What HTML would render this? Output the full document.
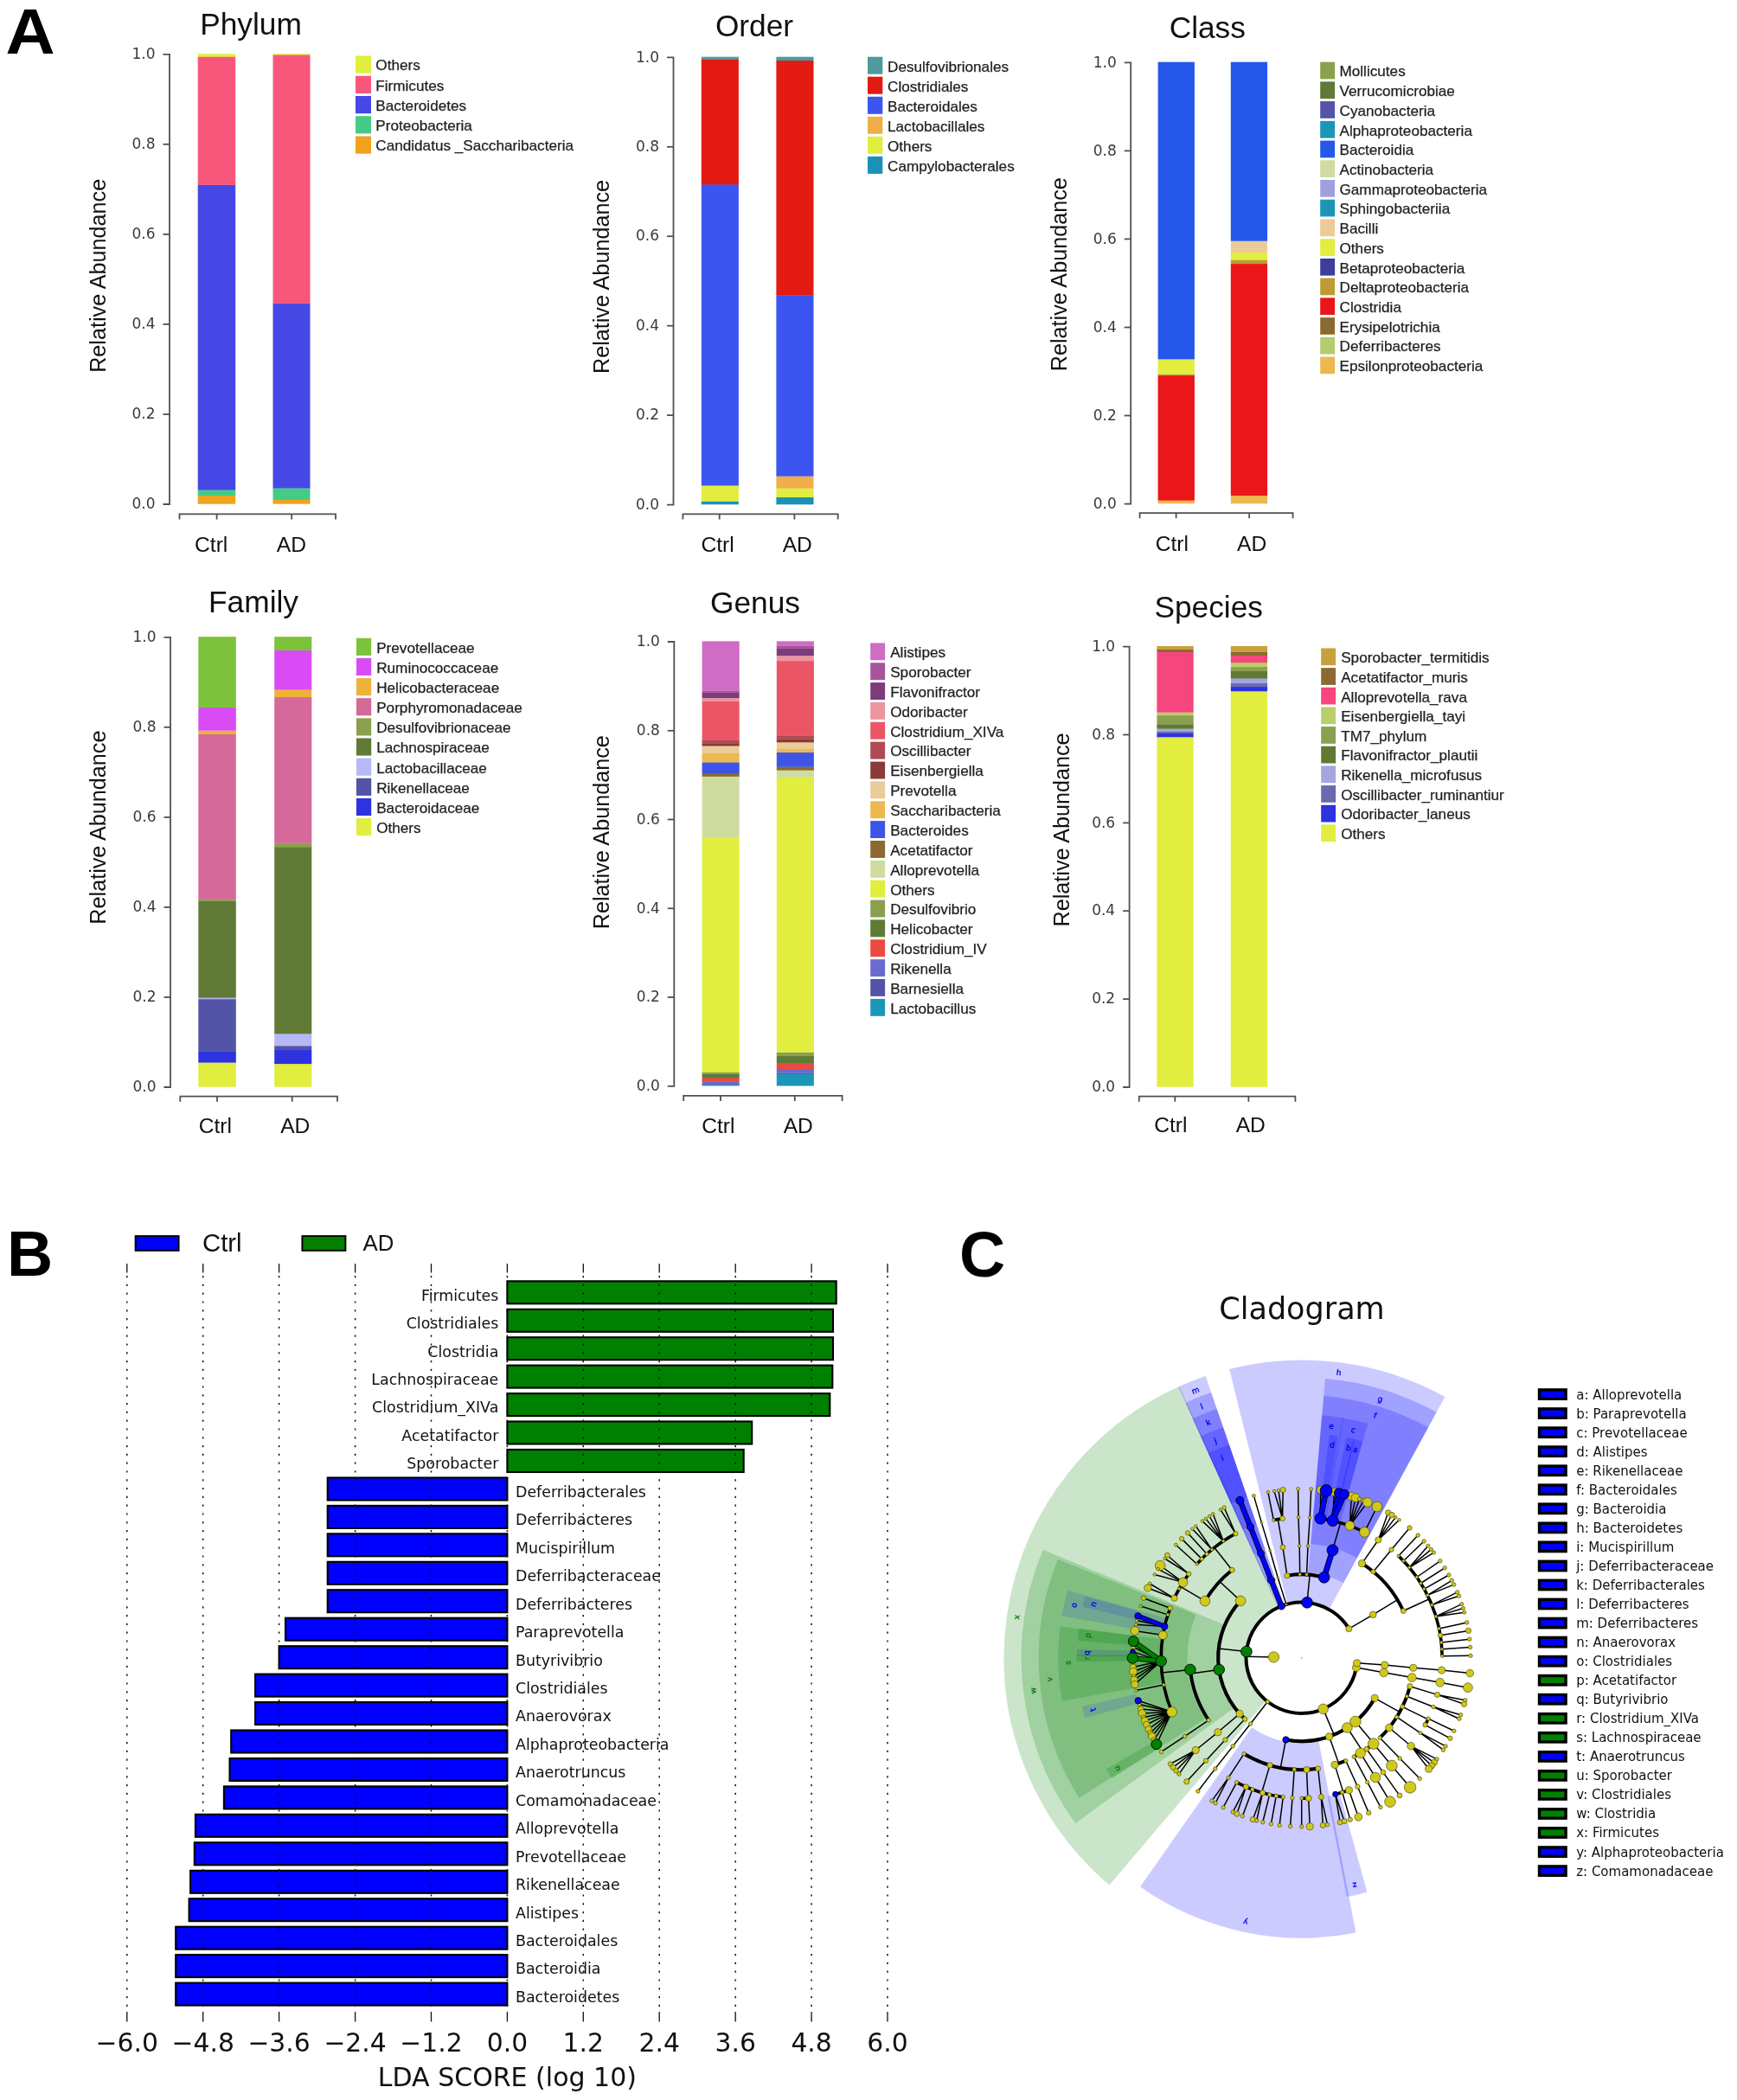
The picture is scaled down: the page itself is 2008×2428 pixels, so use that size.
<!DOCTYPE html>
<html><head><meta charset="utf-8"><title>Figure</title>
<style>html,body{margin:0;padding:0;background:#fff}svg{display:block;filter:blur(0.45px)}</style></head>
<body><svg width="2008" height="2428" viewBox="0 0 2008 2428">
<rect width="2008" height="2428" fill="#fff"/>
<g stroke="#505050" stroke-width="1.8" fill="none">
<path d="M188.5,62.800000000000004H196V583.0H188.5"/>
<path d="M188.5,479.0H196"/>
<path d="M188.5,374.9H196"/>
<path d="M188.5,270.9H196"/>
<path d="M188.5,166.8H196"/>
<path d="M207.5,600.4V594.4H388V600.4M250.6,594.4V600.4M337.2,594.4V600.4"/>
</g>
<text x="179.6" y="588.2" text-anchor="end" font-family="DejaVu Sans, Liberation Sans, sans-serif" font-size="17" fill="#3a3a3a">0.0</text>
<text x="179.6" y="484.2" text-anchor="end" font-family="DejaVu Sans, Liberation Sans, sans-serif" font-size="17" fill="#3a3a3a">0.2</text>
<text x="179.6" y="380.1" text-anchor="end" font-family="DejaVu Sans, Liberation Sans, sans-serif" font-size="17" fill="#3a3a3a">0.4</text>
<text x="179.6" y="276.1" text-anchor="end" font-family="DejaVu Sans, Liberation Sans, sans-serif" font-size="17" fill="#3a3a3a">0.6</text>
<text x="179.6" y="172.0" text-anchor="end" font-family="DejaVu Sans, Liberation Sans, sans-serif" font-size="17" fill="#3a3a3a">0.8</text>
<text x="179.6" y="68.0" text-anchor="end" font-family="DejaVu Sans, Liberation Sans, sans-serif" font-size="17" fill="#3a3a3a">1.0</text>
<rect x="228.7" y="572.7" width="43.5" height="10.0" fill="#F0A31E"/>
<rect x="228.7" y="566.3" width="43.5" height="6.8" fill="#45CB86"/>
<rect x="228.7" y="213.6" width="43.5" height="353.0" fill="#4648E5"/>
<rect x="228.7" y="65.3" width="43.5" height="148.6" fill="#F8577B"/>
<rect x="228.7" y="62.2" width="43.5" height="3.4" fill="#E1EE3F"/>
<rect x="315.5" y="577.7" width="43.0" height="5.0" fill="#F0A31E"/>
<rect x="315.5" y="564.2" width="43.0" height="13.8" fill="#45CB86"/>
<rect x="315.5" y="350.9" width="43.0" height="213.6" fill="#4648E5"/>
<rect x="315.5" y="63.2" width="43.0" height="288.0" fill="#F8577B"/>
<rect x="315.5" y="62.2" width="43.0" height="1.3" fill="#E1EE3F"/>
<text x="290" y="39.8" text-anchor="middle" font-family="Liberation Sans, Arial, sans-serif" font-size="35.3" fill="#111">Phylum</text>
<text x="244.2" y="637.5" text-anchor="middle" font-family="Liberation Sans, Arial, sans-serif" font-size="24.6" fill="#111">Ctrl</text>
<text x="336.9" y="637.5" text-anchor="middle" font-family="Liberation Sans, Arial, sans-serif" font-size="24.6" fill="#111">AD</text>
<text transform="translate(122,318.8) rotate(-90)" text-anchor="middle" font-family="Liberation Sans, Arial, sans-serif" font-size="25.2" fill="#111">Relative Abundance</text>
<rect x="411" y="64.5" width="18.0" height="20.2" fill="#E1EE3F"/>
<text x="434.3" y="81.4" font-family="Liberation Sans, Arial, sans-serif" font-size="17.15" fill="#1e1e1e" stroke="#1e1e1e" stroke-width="0.25">Others</text>
<rect x="411" y="87.8" width="18.0" height="20.2" fill="#F8577B"/>
<text x="434.3" y="104.7" font-family="Liberation Sans, Arial, sans-serif" font-size="17.15" fill="#1e1e1e" stroke="#1e1e1e" stroke-width="0.25">Firmicutes</text>
<rect x="411" y="111.0" width="18.0" height="20.2" fill="#4648E5"/>
<text x="434.3" y="127.9" font-family="Liberation Sans, Arial, sans-serif" font-size="17.15" fill="#1e1e1e" stroke="#1e1e1e" stroke-width="0.25">Bacteroidetes</text>
<rect x="411" y="134.2" width="18.0" height="20.2" fill="#45CB86"/>
<text x="434.3" y="151.2" font-family="Liberation Sans, Arial, sans-serif" font-size="17.15" fill="#1e1e1e" stroke="#1e1e1e" stroke-width="0.25">Proteobacteria</text>
<rect x="411" y="157.5" width="18.0" height="20.2" fill="#F0A31E"/>
<text x="434.3" y="174.4" font-family="Liberation Sans, Arial, sans-serif" font-size="17.15" fill="#1e1e1e" stroke="#1e1e1e" stroke-width="0.25">Candidatus _Saccharibacteria</text>
<g stroke="#505050" stroke-width="1.8" fill="none">
<path d="M771.0,66.3H778.5V583.6H771.0"/>
<path d="M771.0,480.1H778.5"/>
<path d="M771.0,376.7H778.5"/>
<path d="M771.0,273.2H778.5"/>
<path d="M771.0,169.8H778.5"/>
<path d="M789.4,600.4V594.4H968.7V600.4M831.7,594.4V600.4M918.4,594.4V600.4"/>
</g>
<text x="762.1" y="588.8" text-anchor="end" font-family="DejaVu Sans, Liberation Sans, sans-serif" font-size="17" fill="#3a3a3a">0.0</text>
<text x="762.1" y="485.3" text-anchor="end" font-family="DejaVu Sans, Liberation Sans, sans-serif" font-size="17" fill="#3a3a3a">0.2</text>
<text x="762.1" y="381.9" text-anchor="end" font-family="DejaVu Sans, Liberation Sans, sans-serif" font-size="17" fill="#3a3a3a">0.4</text>
<text x="762.1" y="278.4" text-anchor="end" font-family="DejaVu Sans, Liberation Sans, sans-serif" font-size="17" fill="#3a3a3a">0.6</text>
<text x="762.1" y="175.0" text-anchor="end" font-family="DejaVu Sans, Liberation Sans, sans-serif" font-size="17" fill="#3a3a3a">0.8</text>
<text x="762.1" y="71.5" text-anchor="end" font-family="DejaVu Sans, Liberation Sans, sans-serif" font-size="17" fill="#3a3a3a">1.0</text>
<rect x="810.8" y="579.4" width="43.1" height="3.9" fill="#1B92B5"/>
<rect x="810.8" y="561.3" width="43.1" height="18.4" fill="#E1EE3F"/>
<rect x="810.8" y="213.1" width="43.1" height="348.4" fill="#3D55F0"/>
<rect x="810.8" y="68.3" width="43.1" height="145.1" fill="#E31A12"/>
<rect x="810.8" y="65.7" width="43.1" height="2.9" fill="#4D9A9F"/>
<rect x="897.4" y="574.7" width="43.1" height="8.6" fill="#1B92B5"/>
<rect x="897.4" y="564.4" width="43.1" height="10.6" fill="#E1EE3F"/>
<rect x="897.4" y="550.4" width="43.1" height="14.3" fill="#F0AE4B"/>
<rect x="897.4" y="341.4" width="43.1" height="209.3" fill="#3D55F0"/>
<rect x="897.4" y="69.8" width="43.1" height="271.9" fill="#E31A12"/>
<rect x="897.4" y="65.7" width="43.1" height="4.4" fill="#4D9A9F"/>
<text x="872" y="41.5" text-anchor="middle" font-family="Liberation Sans, Arial, sans-serif" font-size="35.3" fill="#111">Order</text>
<text x="829.5" y="637.5" text-anchor="middle" font-family="Liberation Sans, Arial, sans-serif" font-size="24.6" fill="#111">Ctrl</text>
<text x="921.8" y="637.5" text-anchor="middle" font-family="Liberation Sans, Arial, sans-serif" font-size="24.6" fill="#111">AD</text>
<text transform="translate(703.6,320) rotate(-90)" text-anchor="middle" font-family="Liberation Sans, Arial, sans-serif" font-size="25.2" fill="#111">Relative Abundance</text>
<rect x="1003" y="65.7" width="17.3" height="20.0" fill="#4D9A9F"/>
<text x="1026" y="82.5" font-family="Liberation Sans, Arial, sans-serif" font-size="17.15" fill="#1e1e1e" stroke="#1e1e1e" stroke-width="0.25">Desulfovibrionales</text>
<rect x="1003" y="88.7" width="17.3" height="20.0" fill="#E31A12"/>
<text x="1026" y="105.5" font-family="Liberation Sans, Arial, sans-serif" font-size="17.15" fill="#1e1e1e" stroke="#1e1e1e" stroke-width="0.25">Clostridiales</text>
<rect x="1003" y="111.8" width="17.3" height="20.0" fill="#3D55F0"/>
<text x="1026" y="128.6" font-family="Liberation Sans, Arial, sans-serif" font-size="17.15" fill="#1e1e1e" stroke="#1e1e1e" stroke-width="0.25">Bacteroidales</text>
<rect x="1003" y="134.8" width="17.3" height="20.0" fill="#F0AE4B"/>
<text x="1026" y="151.6" font-family="Liberation Sans, Arial, sans-serif" font-size="17.15" fill="#1e1e1e" stroke="#1e1e1e" stroke-width="0.25">Lactobacillales</text>
<rect x="1003" y="157.8" width="17.3" height="20.0" fill="#E1EE3F"/>
<text x="1026" y="174.6" font-family="Liberation Sans, Arial, sans-serif" font-size="17.15" fill="#1e1e1e" stroke="#1e1e1e" stroke-width="0.25">Others</text>
<rect x="1003" y="180.9" width="17.3" height="20.0" fill="#1B92B5"/>
<text x="1026" y="197.7" font-family="Liberation Sans, Arial, sans-serif" font-size="17.15" fill="#1e1e1e" stroke="#1e1e1e" stroke-width="0.25">Campylobacterales</text>
<g stroke="#505050" stroke-width="1.8" fill="none">
<path d="M1299.7,72.3H1307.2V582.6H1299.7"/>
<path d="M1299.7,480.5H1307.2"/>
<path d="M1299.7,378.5H1307.2"/>
<path d="M1299.7,276.4H1307.2"/>
<path d="M1299.7,174.4H1307.2"/>
<path d="M1317.6,599.2V593.2H1494.6V599.2M1359.6,593.2V599.2M1444.2,593.2V599.2"/>
</g>
<text x="1290.8" y="587.8" text-anchor="end" font-family="DejaVu Sans, Liberation Sans, sans-serif" font-size="17" fill="#3a3a3a">0.0</text>
<text x="1290.8" y="485.7" text-anchor="end" font-family="DejaVu Sans, Liberation Sans, sans-serif" font-size="17" fill="#3a3a3a">0.2</text>
<text x="1290.8" y="383.7" text-anchor="end" font-family="DejaVu Sans, Liberation Sans, sans-serif" font-size="17" fill="#3a3a3a">0.4</text>
<text x="1290.8" y="281.6" text-anchor="end" font-family="DejaVu Sans, Liberation Sans, sans-serif" font-size="17" fill="#3a3a3a">0.6</text>
<text x="1290.8" y="179.6" text-anchor="end" font-family="DejaVu Sans, Liberation Sans, sans-serif" font-size="17" fill="#3a3a3a">0.8</text>
<text x="1290.8" y="77.5" text-anchor="end" font-family="DejaVu Sans, Liberation Sans, sans-serif" font-size="17" fill="#3a3a3a">1.0</text>
<rect x="1338.6" y="578.4" width="42.3" height="3.9" fill="#EDB850"/>
<rect x="1338.6" y="434.0" width="42.3" height="144.7" fill="#EA161A"/>
<rect x="1338.6" y="432.5" width="42.3" height="1.8" fill="#C09A35"/>
<rect x="1338.6" y="415.1" width="42.3" height="17.7" fill="#E1EE3F"/>
<rect x="1338.6" y="71.7" width="42.3" height="343.7" fill="#2657EB"/>
<rect x="1422.8" y="572.8" width="42.3" height="9.5" fill="#EDB850"/>
<rect x="1422.8" y="304.9" width="42.3" height="268.2" fill="#EA161A"/>
<rect x="1422.8" y="300.3" width="42.3" height="4.9" fill="#C09A35"/>
<rect x="1422.8" y="291.6" width="42.3" height="9.0" fill="#E1EE3F"/>
<rect x="1422.8" y="278.4" width="42.3" height="13.6" fill="#EBCB98"/>
<rect x="1422.8" y="71.7" width="42.3" height="207.0" fill="#2657EB"/>
<text x="1395.8" y="43.5" text-anchor="middle" font-family="Liberation Sans, Arial, sans-serif" font-size="35.3" fill="#111">Class</text>
<text x="1354.9" y="636.5" text-anchor="middle" font-family="Liberation Sans, Arial, sans-serif" font-size="24.6" fill="#111">Ctrl</text>
<text x="1447.2" y="636.5" text-anchor="middle" font-family="Liberation Sans, Arial, sans-serif" font-size="24.6" fill="#111">AD</text>
<text transform="translate(1232.6,317.2) rotate(-90)" text-anchor="middle" font-family="Liberation Sans, Arial, sans-serif" font-size="25.2" fill="#111">Relative Abundance</text>
<rect x="1526.2" y="71.7" width="16.9" height="19.7" fill="#8BA04E"/>
<text x="1548.5" y="88.4" font-family="Liberation Sans, Arial, sans-serif" font-size="17.15" fill="#1e1e1e" stroke="#1e1e1e" stroke-width="0.25">Mollicutes</text>
<rect x="1526.2" y="94.4" width="16.9" height="19.7" fill="#5E7A35"/>
<text x="1548.5" y="111.1" font-family="Liberation Sans, Arial, sans-serif" font-size="17.15" fill="#1e1e1e" stroke="#1e1e1e" stroke-width="0.25">Verrucomicrobiae</text>
<rect x="1526.2" y="117.1" width="16.9" height="19.7" fill="#5353A8"/>
<text x="1548.5" y="133.8" font-family="Liberation Sans, Arial, sans-serif" font-size="17.15" fill="#1e1e1e" stroke="#1e1e1e" stroke-width="0.25">Cyanobacteria</text>
<rect x="1526.2" y="139.9" width="16.9" height="19.7" fill="#1B96B8"/>
<text x="1548.5" y="156.5" font-family="Liberation Sans, Arial, sans-serif" font-size="17.15" fill="#1e1e1e" stroke="#1e1e1e" stroke-width="0.25">Alphaproteobacteria</text>
<rect x="1526.2" y="162.6" width="16.9" height="19.7" fill="#2657EB"/>
<text x="1548.5" y="179.2" font-family="Liberation Sans, Arial, sans-serif" font-size="17.15" fill="#1e1e1e" stroke="#1e1e1e" stroke-width="0.25">Bacteroidia</text>
<rect x="1526.2" y="185.3" width="16.9" height="19.7" fill="#CFDCA0"/>
<text x="1548.5" y="202.0" font-family="Liberation Sans, Arial, sans-serif" font-size="17.15" fill="#1e1e1e" stroke="#1e1e1e" stroke-width="0.25">Actinobacteria</text>
<rect x="1526.2" y="208.0" width="16.9" height="19.7" fill="#A09FE0"/>
<text x="1548.5" y="224.7" font-family="Liberation Sans, Arial, sans-serif" font-size="17.15" fill="#1e1e1e" stroke="#1e1e1e" stroke-width="0.25">Gammaproteobacteria</text>
<rect x="1526.2" y="230.7" width="16.9" height="19.7" fill="#1B96B8"/>
<text x="1548.5" y="247.4" font-family="Liberation Sans, Arial, sans-serif" font-size="17.15" fill="#1e1e1e" stroke="#1e1e1e" stroke-width="0.25">Sphingobacteriia</text>
<rect x="1526.2" y="253.5" width="16.9" height="19.7" fill="#EBCB98"/>
<text x="1548.5" y="270.1" font-family="Liberation Sans, Arial, sans-serif" font-size="17.15" fill="#1e1e1e" stroke="#1e1e1e" stroke-width="0.25">Bacilli</text>
<rect x="1526.2" y="276.2" width="16.9" height="19.7" fill="#E1EE3F"/>
<text x="1548.5" y="292.8" font-family="Liberation Sans, Arial, sans-serif" font-size="17.15" fill="#1e1e1e" stroke="#1e1e1e" stroke-width="0.25">Others</text>
<rect x="1526.2" y="298.9" width="16.9" height="19.7" fill="#3D3D9A"/>
<text x="1548.5" y="315.6" font-family="Liberation Sans, Arial, sans-serif" font-size="17.15" fill="#1e1e1e" stroke="#1e1e1e" stroke-width="0.25">Betaproteobacteria</text>
<rect x="1526.2" y="321.6" width="16.9" height="19.7" fill="#C09A35"/>
<text x="1548.5" y="338.3" font-family="Liberation Sans, Arial, sans-serif" font-size="17.15" fill="#1e1e1e" stroke="#1e1e1e" stroke-width="0.25">Deltaproteobacteria</text>
<rect x="1526.2" y="344.3" width="16.9" height="19.7" fill="#EA161A"/>
<text x="1548.5" y="361.0" font-family="Liberation Sans, Arial, sans-serif" font-size="17.15" fill="#1e1e1e" stroke="#1e1e1e" stroke-width="0.25">Clostridia</text>
<rect x="1526.2" y="367.1" width="16.9" height="19.7" fill="#8A6A30"/>
<text x="1548.5" y="383.7" font-family="Liberation Sans, Arial, sans-serif" font-size="17.15" fill="#1e1e1e" stroke="#1e1e1e" stroke-width="0.25">Erysipelotrichia</text>
<rect x="1526.2" y="389.8" width="16.9" height="19.7" fill="#B0CE6A"/>
<text x="1548.5" y="406.4" font-family="Liberation Sans, Arial, sans-serif" font-size="17.15" fill="#1e1e1e" stroke="#1e1e1e" stroke-width="0.25">Deferribacteres</text>
<rect x="1526.2" y="412.5" width="16.9" height="19.7" fill="#EDB850"/>
<text x="1548.5" y="429.2" font-family="Liberation Sans, Arial, sans-serif" font-size="17.15" fill="#1e1e1e" stroke="#1e1e1e" stroke-width="0.25">Epsilonproteobacteria</text>
<g stroke="#505050" stroke-width="1.8" fill="none">
<path d="M189.5,736.8000000000001H197V1257.0H189.5"/>
<path d="M189.5,1153.0H197"/>
<path d="M189.5,1048.9H197"/>
<path d="M189.5,944.9H197"/>
<path d="M189.5,840.8H197"/>
<path d="M208.3,1273.7V1267.7H390V1273.7M251,1267.7V1273.7M337.7,1267.7V1273.7"/>
</g>
<text x="180.6" y="1262.2" text-anchor="end" font-family="DejaVu Sans, Liberation Sans, sans-serif" font-size="17" fill="#3a3a3a">0.0</text>
<text x="180.6" y="1158.2" text-anchor="end" font-family="DejaVu Sans, Liberation Sans, sans-serif" font-size="17" fill="#3a3a3a">0.2</text>
<text x="180.6" y="1054.1" text-anchor="end" font-family="DejaVu Sans, Liberation Sans, sans-serif" font-size="17" fill="#3a3a3a">0.4</text>
<text x="180.6" y="950.1" text-anchor="end" font-family="DejaVu Sans, Liberation Sans, sans-serif" font-size="17" fill="#3a3a3a">0.6</text>
<text x="180.6" y="846.0" text-anchor="end" font-family="DejaVu Sans, Liberation Sans, sans-serif" font-size="17" fill="#3a3a3a">0.8</text>
<text x="180.6" y="742.0" text-anchor="end" font-family="DejaVu Sans, Liberation Sans, sans-serif" font-size="17" fill="#3a3a3a">1.0</text>
<rect x="229.3" y="1228.3" width="43.5" height="28.4" fill="#E1EE3F"/>
<rect x="229.3" y="1215.3" width="43.5" height="13.3" fill="#2D33DF"/>
<rect x="229.3" y="1155.0" width="43.5" height="60.6" fill="#5353A8"/>
<rect x="229.3" y="1153.4" width="43.5" height="1.9" fill="#B8B8F5"/>
<rect x="229.3" y="1041.6" width="43.5" height="112.1" fill="#617B37"/>
<rect x="229.3" y="1039.5" width="43.5" height="2.4" fill="#8BA04E"/>
<rect x="229.3" y="848.6" width="43.5" height="191.2" fill="#D4699A"/>
<rect x="229.3" y="844.4" width="43.5" height="4.5" fill="#EDB23A"/>
<rect x="229.3" y="817.9" width="43.5" height="26.8" fill="#D94CF5"/>
<rect x="229.3" y="736.2" width="43.5" height="82.0" fill="#7CC23A"/>
<rect x="317.2" y="1229.9" width="43.1" height="26.8" fill="#E1EE3F"/>
<rect x="317.2" y="1213.2" width="43.1" height="16.9" fill="#2D33DF"/>
<rect x="317.2" y="1209.1" width="43.1" height="4.5" fill="#5353A8"/>
<rect x="317.2" y="1195.0" width="43.1" height="14.3" fill="#B8B8F5"/>
<rect x="317.2" y="979.1" width="43.1" height="216.2" fill="#617B37"/>
<rect x="317.2" y="974.5" width="43.1" height="5.0" fill="#8BA04E"/>
<rect x="317.2" y="805.9" width="43.1" height="168.8" fill="#D4699A"/>
<rect x="317.2" y="797.1" width="43.1" height="9.1" fill="#EDB23A"/>
<rect x="317.2" y="751.8" width="43.1" height="45.6" fill="#D94CF5"/>
<rect x="317.2" y="736.2" width="43.1" height="15.9" fill="#7CC23A"/>
<text x="293" y="708.4" text-anchor="middle" font-family="Liberation Sans, Arial, sans-serif" font-size="35.3" fill="#111">Family</text>
<text x="248.8" y="1309.6" text-anchor="middle" font-family="Liberation Sans, Arial, sans-serif" font-size="24.6" fill="#111">Ctrl</text>
<text x="341.3" y="1309.6" text-anchor="middle" font-family="Liberation Sans, Arial, sans-serif" font-size="24.6" fill="#111">AD</text>
<text transform="translate(122,956.6) rotate(-90)" text-anchor="middle" font-family="Liberation Sans, Arial, sans-serif" font-size="25.2" fill="#111">Relative Abundance</text>
<rect x="411.9" y="737.8" width="17.3" height="20.1" fill="#7CC23A"/>
<text x="435.2" y="754.7" font-family="Liberation Sans, Arial, sans-serif" font-size="17.15" fill="#1e1e1e" stroke="#1e1e1e" stroke-width="0.25">Prevotellaceae</text>
<rect x="411.9" y="760.9" width="17.3" height="20.1" fill="#D94CF5"/>
<text x="435.2" y="777.8" font-family="Liberation Sans, Arial, sans-serif" font-size="17.15" fill="#1e1e1e" stroke="#1e1e1e" stroke-width="0.25">Ruminococcaceae</text>
<rect x="411.9" y="784.1" width="17.3" height="20.1" fill="#EDB23A"/>
<text x="435.2" y="801.0" font-family="Liberation Sans, Arial, sans-serif" font-size="17.15" fill="#1e1e1e" stroke="#1e1e1e" stroke-width="0.25">Helicobacteraceae</text>
<rect x="411.9" y="807.2" width="17.3" height="20.1" fill="#D4699A"/>
<text x="435.2" y="824.1" font-family="Liberation Sans, Arial, sans-serif" font-size="17.15" fill="#1e1e1e" stroke="#1e1e1e" stroke-width="0.25">Porphyromonadaceae</text>
<rect x="411.9" y="830.4" width="17.3" height="20.1" fill="#8BA04E"/>
<text x="435.2" y="847.3" font-family="Liberation Sans, Arial, sans-serif" font-size="17.15" fill="#1e1e1e" stroke="#1e1e1e" stroke-width="0.25">Desulfovibrionaceae</text>
<rect x="411.9" y="853.5" width="17.3" height="20.1" fill="#617B37"/>
<text x="435.2" y="870.4" font-family="Liberation Sans, Arial, sans-serif" font-size="17.15" fill="#1e1e1e" stroke="#1e1e1e" stroke-width="0.25">Lachnospiraceae</text>
<rect x="411.9" y="876.7" width="17.3" height="20.1" fill="#B8B8F5"/>
<text x="435.2" y="893.6" font-family="Liberation Sans, Arial, sans-serif" font-size="17.15" fill="#1e1e1e" stroke="#1e1e1e" stroke-width="0.25">Lactobacillaceae</text>
<rect x="411.9" y="899.8" width="17.3" height="20.1" fill="#5353A8"/>
<text x="435.2" y="916.7" font-family="Liberation Sans, Arial, sans-serif" font-size="17.15" fill="#1e1e1e" stroke="#1e1e1e" stroke-width="0.25">Rikenellaceae</text>
<rect x="411.9" y="923.0" width="17.3" height="20.1" fill="#2D33DF"/>
<text x="435.2" y="939.9" font-family="Liberation Sans, Arial, sans-serif" font-size="17.15" fill="#1e1e1e" stroke="#1e1e1e" stroke-width="0.25">Bacteroidaceae</text>
<rect x="411.9" y="946.1" width="17.3" height="20.1" fill="#E1EE3F"/>
<text x="435.2" y="963.0" font-family="Liberation Sans, Arial, sans-serif" font-size="17.15" fill="#1e1e1e" stroke="#1e1e1e" stroke-width="0.25">Others</text>
<g stroke="#505050" stroke-width="1.8" fill="none">
<path d="M771.8,742.0H779.3V1255.8H771.8"/>
<path d="M771.8,1153.0H779.3"/>
<path d="M771.8,1050.3H779.3"/>
<path d="M771.8,947.5H779.3"/>
<path d="M771.8,844.8H779.3"/>
<path d="M790.2,1272.9V1266.9H973.6V1272.9M833,1266.9V1272.9M918.8,1266.9V1272.9"/>
</g>
<text x="762.9" y="1261.0" text-anchor="end" font-family="DejaVu Sans, Liberation Sans, sans-serif" font-size="17" fill="#3a3a3a">0.0</text>
<text x="762.9" y="1158.2" text-anchor="end" font-family="DejaVu Sans, Liberation Sans, sans-serif" font-size="17" fill="#3a3a3a">0.2</text>
<text x="762.9" y="1055.5" text-anchor="end" font-family="DejaVu Sans, Liberation Sans, sans-serif" font-size="17" fill="#3a3a3a">0.4</text>
<text x="762.9" y="952.7" text-anchor="end" font-family="DejaVu Sans, Liberation Sans, sans-serif" font-size="17" fill="#3a3a3a">0.6</text>
<text x="762.9" y="850.0" text-anchor="end" font-family="DejaVu Sans, Liberation Sans, sans-serif" font-size="17" fill="#3a3a3a">0.8</text>
<text x="762.9" y="747.2" text-anchor="end" font-family="DejaVu Sans, Liberation Sans, sans-serif" font-size="17" fill="#3a3a3a">1.0</text>
<rect x="811.6" y="1254.2" width="43.1" height="1.3" fill="#1B96B8"/>
<rect x="811.6" y="1253.1" width="43.1" height="1.3" fill="#5353A8"/>
<rect x="811.6" y="1250.1" width="43.1" height="3.4" fill="#6A6ACF"/>
<rect x="811.6" y="1246.0" width="43.1" height="4.4" fill="#EB4A40"/>
<rect x="811.6" y="1241.6" width="43.1" height="4.7" fill="#5E7A35"/>
<rect x="811.6" y="1239.5" width="43.1" height="2.4" fill="#8BA04E"/>
<rect x="811.6" y="968.5" width="43.1" height="271.3" fill="#E1EE3F"/>
<rect x="811.6" y="897.6" width="43.1" height="71.2" fill="#CFDCA0"/>
<rect x="811.6" y="894.0" width="43.1" height="3.9" fill="#8A6A30"/>
<rect x="811.6" y="881.2" width="43.1" height="13.1" fill="#3D55E6"/>
<rect x="811.6" y="870.9" width="43.1" height="10.6" fill="#EDB850"/>
<rect x="811.6" y="862.1" width="43.1" height="9.0" fill="#EBCB98"/>
<rect x="811.6" y="859.6" width="43.1" height="2.9" fill="#8A3A3A"/>
<rect x="811.6" y="855.5" width="43.1" height="4.4" fill="#B04A52"/>
<rect x="811.6" y="810.8" width="43.1" height="45.0" fill="#EB5566"/>
<rect x="811.6" y="806.7" width="43.1" height="4.4" fill="#EB95A0"/>
<rect x="811.6" y="800.5" width="43.1" height="6.5" fill="#7A3C7A"/>
<rect x="811.6" y="798.4" width="43.1" height="2.4" fill="#A8529E"/>
<rect x="811.6" y="741.4" width="43.1" height="57.3" fill="#CF6CC4"/>
<rect x="897.8" y="1241.6" width="43.1" height="13.9" fill="#1B96B8"/>
<rect x="897.8" y="1240.5" width="43.1" height="1.4" fill="#5353A8"/>
<rect x="897.8" y="1236.7" width="43.1" height="4.1" fill="#6A6ACF"/>
<rect x="897.8" y="1229.5" width="43.1" height="7.5" fill="#EB4A40"/>
<rect x="897.8" y="1220.8" width="43.1" height="9.0" fill="#5E7A35"/>
<rect x="897.8" y="1216.5" width="43.1" height="4.6" fill="#8BA04E"/>
<rect x="897.8" y="898.6" width="43.1" height="318.2" fill="#E1EE3F"/>
<rect x="897.8" y="890.4" width="43.1" height="8.5" fill="#CFDCA0"/>
<rect x="897.8" y="886.3" width="43.1" height="4.4" fill="#8A6A30"/>
<rect x="897.8" y="869.9" width="43.1" height="16.7" fill="#3D55E6"/>
<rect x="897.8" y="865.7" width="43.1" height="4.4" fill="#EDB850"/>
<rect x="897.8" y="858.0" width="43.1" height="8.0" fill="#EBCB98"/>
<rect x="897.8" y="854.4" width="43.1" height="3.9" fill="#8A3A3A"/>
<rect x="897.8" y="850.3" width="43.1" height="4.4" fill="#B04A52"/>
<rect x="897.8" y="764.0" width="43.1" height="86.6" fill="#EB5566"/>
<rect x="897.8" y="757.8" width="43.1" height="6.5" fill="#EB95A0"/>
<rect x="897.8" y="749.6" width="43.1" height="8.5" fill="#7A3C7A"/>
<rect x="897.8" y="746.5" width="43.1" height="3.4" fill="#A8529E"/>
<rect x="897.8" y="741.4" width="43.1" height="5.4" fill="#CF6CC4"/>
<text x="873" y="709.2" text-anchor="middle" font-family="Liberation Sans, Arial, sans-serif" font-size="35.3" fill="#111">Genus</text>
<text x="830.3" y="1309.6" text-anchor="middle" font-family="Liberation Sans, Arial, sans-serif" font-size="24.6" fill="#111">Ctrl</text>
<text x="922.8" y="1309.6" text-anchor="middle" font-family="Liberation Sans, Arial, sans-serif" font-size="24.6" fill="#111">AD</text>
<text transform="translate(704.4,962.2) rotate(-90)" text-anchor="middle" font-family="Liberation Sans, Arial, sans-serif" font-size="25.2" fill="#111">Relative Abundance</text>
<rect x="1006.2" y="743.4" width="16.9" height="19.9" fill="#CF6CC4"/>
<text x="1029.2" y="760.1" font-family="Liberation Sans, Arial, sans-serif" font-size="17.15" fill="#1e1e1e" stroke="#1e1e1e" stroke-width="0.25">Alistipes</text>
<rect x="1006.2" y="766.3" width="16.9" height="19.9" fill="#A8529E"/>
<text x="1029.2" y="783.0" font-family="Liberation Sans, Arial, sans-serif" font-size="17.15" fill="#1e1e1e" stroke="#1e1e1e" stroke-width="0.25">Sporobacter</text>
<rect x="1006.2" y="789.1" width="16.9" height="19.9" fill="#7A3C7A"/>
<text x="1029.2" y="805.8" font-family="Liberation Sans, Arial, sans-serif" font-size="17.15" fill="#1e1e1e" stroke="#1e1e1e" stroke-width="0.25">Flavonifractor</text>
<rect x="1006.2" y="812.0" width="16.9" height="19.9" fill="#EB95A0"/>
<text x="1029.2" y="828.7" font-family="Liberation Sans, Arial, sans-serif" font-size="17.15" fill="#1e1e1e" stroke="#1e1e1e" stroke-width="0.25">Odoribacter</text>
<rect x="1006.2" y="834.8" width="16.9" height="19.9" fill="#EB5566"/>
<text x="1029.2" y="851.6" font-family="Liberation Sans, Arial, sans-serif" font-size="17.15" fill="#1e1e1e" stroke="#1e1e1e" stroke-width="0.25">Clostridium_XIVa</text>
<rect x="1006.2" y="857.7" width="16.9" height="19.9" fill="#B04A52"/>
<text x="1029.2" y="874.4" font-family="Liberation Sans, Arial, sans-serif" font-size="17.15" fill="#1e1e1e" stroke="#1e1e1e" stroke-width="0.25">Oscillibacter</text>
<rect x="1006.2" y="880.6" width="16.9" height="19.9" fill="#8A3A3A"/>
<text x="1029.2" y="897.3" font-family="Liberation Sans, Arial, sans-serif" font-size="17.15" fill="#1e1e1e" stroke="#1e1e1e" stroke-width="0.25">Eisenbergiella</text>
<rect x="1006.2" y="903.4" width="16.9" height="19.9" fill="#EBCB98"/>
<text x="1029.2" y="920.1" font-family="Liberation Sans, Arial, sans-serif" font-size="17.15" fill="#1e1e1e" stroke="#1e1e1e" stroke-width="0.25">Prevotella</text>
<rect x="1006.2" y="926.3" width="16.9" height="19.9" fill="#EDB850"/>
<text x="1029.2" y="943.0" font-family="Liberation Sans, Arial, sans-serif" font-size="17.15" fill="#1e1e1e" stroke="#1e1e1e" stroke-width="0.25">Saccharibacteria</text>
<rect x="1006.2" y="949.1" width="16.9" height="19.9" fill="#3D55E6"/>
<text x="1029.2" y="965.9" font-family="Liberation Sans, Arial, sans-serif" font-size="17.15" fill="#1e1e1e" stroke="#1e1e1e" stroke-width="0.25">Bacteroides</text>
<rect x="1006.2" y="972.0" width="16.9" height="19.9" fill="#8A6A30"/>
<text x="1029.2" y="988.7" font-family="Liberation Sans, Arial, sans-serif" font-size="17.15" fill="#1e1e1e" stroke="#1e1e1e" stroke-width="0.25">Acetatifactor</text>
<rect x="1006.2" y="994.9" width="16.9" height="19.9" fill="#CFDCA0"/>
<text x="1029.2" y="1011.6" font-family="Liberation Sans, Arial, sans-serif" font-size="17.15" fill="#1e1e1e" stroke="#1e1e1e" stroke-width="0.25">Alloprevotella</text>
<rect x="1006.2" y="1017.7" width="16.9" height="19.9" fill="#E1EE3F"/>
<text x="1029.2" y="1034.5" font-family="Liberation Sans, Arial, sans-serif" font-size="17.15" fill="#1e1e1e" stroke="#1e1e1e" stroke-width="0.25">Others</text>
<rect x="1006.2" y="1040.6" width="16.9" height="19.9" fill="#8BA04E"/>
<text x="1029.2" y="1057.3" font-family="Liberation Sans, Arial, sans-serif" font-size="17.15" fill="#1e1e1e" stroke="#1e1e1e" stroke-width="0.25">Desulfovibrio</text>
<rect x="1006.2" y="1063.4" width="16.9" height="19.9" fill="#5E7A35"/>
<text x="1029.2" y="1080.2" font-family="Liberation Sans, Arial, sans-serif" font-size="17.15" fill="#1e1e1e" stroke="#1e1e1e" stroke-width="0.25">Helicobacter</text>
<rect x="1006.2" y="1086.3" width="16.9" height="19.9" fill="#EB4A40"/>
<text x="1029.2" y="1103.0" font-family="Liberation Sans, Arial, sans-serif" font-size="17.15" fill="#1e1e1e" stroke="#1e1e1e" stroke-width="0.25">Clostridium_IV</text>
<rect x="1006.2" y="1109.2" width="16.9" height="19.9" fill="#6A6ACF"/>
<text x="1029.2" y="1125.9" font-family="Liberation Sans, Arial, sans-serif" font-size="17.15" fill="#1e1e1e" stroke="#1e1e1e" stroke-width="0.25">Rikenella</text>
<rect x="1006.2" y="1132.0" width="16.9" height="19.9" fill="#5353A8"/>
<text x="1029.2" y="1148.8" font-family="Liberation Sans, Arial, sans-serif" font-size="17.15" fill="#1e1e1e" stroke="#1e1e1e" stroke-width="0.25">Barnesiella</text>
<rect x="1006.2" y="1154.9" width="16.9" height="19.9" fill="#1B96B8"/>
<text x="1029.2" y="1171.6" font-family="Liberation Sans, Arial, sans-serif" font-size="17.15" fill="#1e1e1e" stroke="#1e1e1e" stroke-width="0.25">Lactobacillus</text>
<g stroke="#505050" stroke-width="1.8" fill="none">
<path d="M1298.1,747.6H1305.6V1257.0H1298.1"/>
<path d="M1298.1,1155.1H1305.6"/>
<path d="M1298.1,1053.2H1305.6"/>
<path d="M1298.1,951.4H1305.6"/>
<path d="M1298.1,849.5H1305.6"/>
<path d="M1316.8,1273.7V1267.7H1497.4V1273.7M1358.3,1267.7V1273.7M1443.4,1267.7V1273.7"/>
</g>
<text x="1289.1999999999998" y="1262.2" text-anchor="end" font-family="DejaVu Sans, Liberation Sans, sans-serif" font-size="17" fill="#3a3a3a">0.0</text>
<text x="1289.1999999999998" y="1160.3" text-anchor="end" font-family="DejaVu Sans, Liberation Sans, sans-serif" font-size="17" fill="#3a3a3a">0.2</text>
<text x="1289.1999999999998" y="1058.4" text-anchor="end" font-family="DejaVu Sans, Liberation Sans, sans-serif" font-size="17" fill="#3a3a3a">0.4</text>
<text x="1289.1999999999998" y="956.6" text-anchor="end" font-family="DejaVu Sans, Liberation Sans, sans-serif" font-size="17" fill="#3a3a3a">0.6</text>
<text x="1289.1999999999998" y="854.7" text-anchor="end" font-family="DejaVu Sans, Liberation Sans, sans-serif" font-size="17" fill="#3a3a3a">0.8</text>
<text x="1289.1999999999998" y="752.8" text-anchor="end" font-family="DejaVu Sans, Liberation Sans, sans-serif" font-size="17" fill="#3a3a3a">1.0</text>
<rect x="1337.4" y="851.9" width="42.3" height="404.8" fill="#E1EE3F"/>
<rect x="1337.4" y="847.9" width="42.3" height="4.4" fill="#2D33DF"/>
<rect x="1337.4" y="845.3" width="42.3" height="2.8" fill="#6A6AAF"/>
<rect x="1337.4" y="842.3" width="42.3" height="3.4" fill="#A5A5E0"/>
<rect x="1337.4" y="837.2" width="42.3" height="5.4" fill="#5E7A35"/>
<rect x="1337.4" y="827.0" width="42.3" height="10.5" fill="#8BA04E"/>
<rect x="1337.4" y="823.4" width="42.3" height="3.9" fill="#B8CF6A"/>
<rect x="1337.4" y="753.6" width="42.3" height="70.1" fill="#F5467E"/>
<rect x="1337.4" y="750.6" width="42.3" height="3.4" fill="#8A6A30"/>
<rect x="1337.4" y="747.0" width="42.3" height="3.9" fill="#C8A03C"/>
<rect x="1422.8" y="799.0" width="42.3" height="457.7" fill="#E1EE3F"/>
<rect x="1422.8" y="793.9" width="42.3" height="5.4" fill="#2D33DF"/>
<rect x="1422.8" y="789.8" width="42.3" height="4.4" fill="#6A6AAF"/>
<rect x="1422.8" y="784.2" width="42.3" height="5.9" fill="#A5A5E0"/>
<rect x="1422.8" y="775.5" width="42.3" height="9.0" fill="#5E7A35"/>
<rect x="1422.8" y="770.9" width="42.3" height="4.9" fill="#8BA04E"/>
<rect x="1422.8" y="765.8" width="42.3" height="5.4" fill="#B8CF6A"/>
<rect x="1422.8" y="757.7" width="42.3" height="8.5" fill="#F5467E"/>
<rect x="1422.8" y="753.6" width="42.3" height="4.4" fill="#8A6A30"/>
<rect x="1422.8" y="747.0" width="42.3" height="6.9" fill="#C8A03C"/>
<text x="1397.2" y="713.6" text-anchor="middle" font-family="Liberation Sans, Arial, sans-serif" font-size="35.3" fill="#111">Species</text>
<text x="1353.3" y="1308.8" text-anchor="middle" font-family="Liberation Sans, Arial, sans-serif" font-size="24.6" fill="#111">Ctrl</text>
<text x="1445.8" y="1308.8" text-anchor="middle" font-family="Liberation Sans, Arial, sans-serif" font-size="24.6" fill="#111">AD</text>
<text transform="translate(1236.4,959.4) rotate(-90)" text-anchor="middle" font-family="Liberation Sans, Arial, sans-serif" font-size="25.2" fill="#111">Relative Abundance</text>
<rect x="1527.2" y="749.5" width="16.9" height="19.7" fill="#C8A03C"/>
<text x="1550.2" y="766.1" font-family="Liberation Sans, Arial, sans-serif" font-size="17.15" fill="#1e1e1e" stroke="#1e1e1e" stroke-width="0.25">Sporobacter_termitidis</text>
<rect x="1527.2" y="772.2" width="16.9" height="19.7" fill="#8A6A30"/>
<text x="1550.2" y="788.8" font-family="Liberation Sans, Arial, sans-serif" font-size="17.15" fill="#1e1e1e" stroke="#1e1e1e" stroke-width="0.25">Acetatifactor_muris</text>
<rect x="1527.2" y="794.8" width="16.9" height="19.7" fill="#F5467E"/>
<text x="1550.2" y="811.5" font-family="Liberation Sans, Arial, sans-serif" font-size="17.15" fill="#1e1e1e" stroke="#1e1e1e" stroke-width="0.25">Alloprevotella_rava</text>
<rect x="1527.2" y="817.5" width="16.9" height="19.7" fill="#B8CF6A"/>
<text x="1550.2" y="834.1" font-family="Liberation Sans, Arial, sans-serif" font-size="17.15" fill="#1e1e1e" stroke="#1e1e1e" stroke-width="0.25">Eisenbergiella_tayi</text>
<rect x="1527.2" y="840.1" width="16.9" height="19.7" fill="#8BA04E"/>
<text x="1550.2" y="856.8" font-family="Liberation Sans, Arial, sans-serif" font-size="17.15" fill="#1e1e1e" stroke="#1e1e1e" stroke-width="0.25">TM7_phylum</text>
<rect x="1527.2" y="862.8" width="16.9" height="19.7" fill="#5E7A35"/>
<text x="1550.2" y="879.4" font-family="Liberation Sans, Arial, sans-serif" font-size="17.15" fill="#1e1e1e" stroke="#1e1e1e" stroke-width="0.25">Flavonifractor_plautii</text>
<rect x="1527.2" y="885.5" width="16.9" height="19.7" fill="#A5A5E0"/>
<text x="1550.2" y="902.1" font-family="Liberation Sans, Arial, sans-serif" font-size="17.15" fill="#1e1e1e" stroke="#1e1e1e" stroke-width="0.25">Rikenella_microfusus</text>
<rect x="1527.2" y="908.1" width="16.9" height="19.7" fill="#6A6AAF"/>
<text x="1550.2" y="924.8" font-family="Liberation Sans, Arial, sans-serif" font-size="17.15" fill="#1e1e1e" stroke="#1e1e1e" stroke-width="0.25">Oscillibacter_ruminantiur</text>
<rect x="1527.2" y="930.8" width="16.9" height="19.7" fill="#2D33DF"/>
<text x="1550.2" y="947.4" font-family="Liberation Sans, Arial, sans-serif" font-size="17.15" fill="#1e1e1e" stroke="#1e1e1e" stroke-width="0.25">Odoribacter_laneus</text>
<rect x="1527.2" y="953.4" width="16.9" height="19.7" fill="#E1EE3F"/>
<text x="1550.2" y="970.1" font-family="Liberation Sans, Arial, sans-serif" font-size="17.15" fill="#1e1e1e" stroke="#1e1e1e" stroke-width="0.25">Others</text>
<text transform="translate(6.6,62.2) scale(1.055,1)" font-family="Liberation Sans, Arial, sans-serif" font-weight="bold" font-size="75" fill="#000">A</text>
<text x="7.9" y="1475.2" font-family="Liberation Sans, Arial, sans-serif" font-weight="bold" font-size="73.6" fill="#000">B</text>
<text x="1109" y="1475.6" font-family="Liberation Sans, Arial, sans-serif" font-weight="bold" font-size="73.6" fill="#000">C</text>
<rect x="586.4" y="1481.3" width="380.3" height="26" fill="#008000" stroke="#000" stroke-width="2.1"/>
<text x="576.3" y="1503.6" text-anchor="end" font-family="DejaVu Sans, Liberation Sans, sans-serif" font-size="17.4" fill="#111">Firmicutes</text>
<rect x="586.4" y="1513.8" width="376.6" height="26" fill="#008000" stroke="#000" stroke-width="2.1"/>
<text x="576.3" y="1536.0" text-anchor="end" font-family="DejaVu Sans, Liberation Sans, sans-serif" font-size="17.4" fill="#111">Clostridiales</text>
<rect x="586.4" y="1546.2" width="376.6" height="26" fill="#008000" stroke="#000" stroke-width="2.1"/>
<text x="576.3" y="1568.5" text-anchor="end" font-family="DejaVu Sans, Liberation Sans, sans-serif" font-size="17.4" fill="#111">Clostridia</text>
<rect x="586.4" y="1578.6" width="375.9" height="26" fill="#008000" stroke="#000" stroke-width="2.1"/>
<text x="576.3" y="1600.9" text-anchor="end" font-family="DejaVu Sans, Liberation Sans, sans-serif" font-size="17.4" fill="#111">Lachnospiraceae</text>
<rect x="586.4" y="1611.1" width="372.9" height="26" fill="#008000" stroke="#000" stroke-width="2.1"/>
<text x="576.3" y="1633.4" text-anchor="end" font-family="DejaVu Sans, Liberation Sans, sans-serif" font-size="17.4" fill="#111">Clostridium_XIVa</text>
<rect x="586.4" y="1643.5" width="282.8" height="26" fill="#008000" stroke="#000" stroke-width="2.1"/>
<text x="576.3" y="1665.8" text-anchor="end" font-family="DejaVu Sans, Liberation Sans, sans-serif" font-size="17.4" fill="#111">Acetatifactor</text>
<rect x="586.4" y="1676.0" width="273.3" height="26" fill="#008000" stroke="#000" stroke-width="2.1"/>
<text x="576.3" y="1698.3" text-anchor="end" font-family="DejaVu Sans, Liberation Sans, sans-serif" font-size="17.4" fill="#111">Sporobacter</text>
<rect x="378.7" y="1708.5" width="207.7" height="26" fill="#0000FF" stroke="#000" stroke-width="2.1"/>
<text x="596" y="1730.8" font-family="DejaVu Sans, Liberation Sans, sans-serif" font-size="17.4" fill="#111">Deferribacterales</text>
<rect x="378.7" y="1740.9" width="207.7" height="26" fill="#0000FF" stroke="#000" stroke-width="2.1"/>
<text x="596" y="1763.2" font-family="DejaVu Sans, Liberation Sans, sans-serif" font-size="17.4" fill="#111">Deferribacteres</text>
<rect x="378.7" y="1773.3" width="207.7" height="26" fill="#0000FF" stroke="#000" stroke-width="2.1"/>
<text x="596" y="1795.6" font-family="DejaVu Sans, Liberation Sans, sans-serif" font-size="17.4" fill="#111">Mucispirillum</text>
<rect x="378.7" y="1805.8" width="207.7" height="26" fill="#0000FF" stroke="#000" stroke-width="2.1"/>
<text x="596" y="1828.1" font-family="DejaVu Sans, Liberation Sans, sans-serif" font-size="17.4" fill="#111">Deferribacteraceae</text>
<rect x="378.7" y="1838.2" width="207.7" height="26" fill="#0000FF" stroke="#000" stroke-width="2.1"/>
<text x="596" y="1860.5" font-family="DejaVu Sans, Liberation Sans, sans-serif" font-size="17.4" fill="#111">Deferribacteres</text>
<rect x="330.0" y="1870.7" width="256.4" height="26" fill="#0000FF" stroke="#000" stroke-width="2.1"/>
<text x="596" y="1893.0" font-family="DejaVu Sans, Liberation Sans, sans-serif" font-size="17.4" fill="#111">Paraprevotella</text>
<rect x="322.6" y="1903.2" width="263.8" height="26" fill="#0000FF" stroke="#000" stroke-width="2.1"/>
<text x="596" y="1925.5" font-family="DejaVu Sans, Liberation Sans, sans-serif" font-size="17.4" fill="#111">Butyrivibrio</text>
<rect x="295.1" y="1935.6" width="291.3" height="26" fill="#0000FF" stroke="#000" stroke-width="2.1"/>
<text x="596" y="1957.9" font-family="DejaVu Sans, Liberation Sans, sans-serif" font-size="17.4" fill="#111">Clostridiales</text>
<rect x="295.1" y="1968.0" width="291.3" height="26" fill="#0000FF" stroke="#000" stroke-width="2.1"/>
<text x="596" y="1990.3" font-family="DejaVu Sans, Liberation Sans, sans-serif" font-size="17.4" fill="#111">Anaerovorax</text>
<rect x="267.2" y="2000.5" width="319.2" height="26" fill="#0000FF" stroke="#000" stroke-width="2.1"/>
<text x="596" y="2022.8" font-family="DejaVu Sans, Liberation Sans, sans-serif" font-size="17.4" fill="#111">Alphaproteobacteria</text>
<rect x="265.5" y="2033.0" width="320.9" height="26" fill="#0000FF" stroke="#000" stroke-width="2.1"/>
<text x="596" y="2055.2" font-family="DejaVu Sans, Liberation Sans, sans-serif" font-size="17.4" fill="#111">Anaerotruncus</text>
<rect x="258.9" y="2065.4" width="327.5" height="26" fill="#0000FF" stroke="#000" stroke-width="2.1"/>
<text x="596" y="2087.7" font-family="DejaVu Sans, Liberation Sans, sans-serif" font-size="17.4" fill="#111">Comamonadaceae</text>
<rect x="225.9" y="2097.8" width="360.5" height="26" fill="#0000FF" stroke="#000" stroke-width="2.1"/>
<text x="596" y="2120.2" font-family="DejaVu Sans, Liberation Sans, sans-serif" font-size="17.4" fill="#111">Alloprevotella</text>
<rect x="224.8" y="2130.3" width="361.6" height="26" fill="#0000FF" stroke="#000" stroke-width="2.1"/>
<text x="596" y="2152.6" font-family="DejaVu Sans, Liberation Sans, sans-serif" font-size="17.4" fill="#111">Prevotellaceae</text>
<rect x="220.1" y="2162.8" width="366.3" height="26" fill="#0000FF" stroke="#000" stroke-width="2.1"/>
<text x="596" y="2185.1" font-family="DejaVu Sans, Liberation Sans, sans-serif" font-size="17.4" fill="#111">Rikenellaceae</text>
<rect x="218.6" y="2195.2" width="367.8" height="26" fill="#0000FF" stroke="#000" stroke-width="2.1"/>
<text x="596" y="2217.5" font-family="DejaVu Sans, Liberation Sans, sans-serif" font-size="17.4" fill="#111">Alistipes</text>
<rect x="203.2" y="2227.7" width="383.2" height="26" fill="#0000FF" stroke="#000" stroke-width="2.1"/>
<text x="596" y="2250.0" font-family="DejaVu Sans, Liberation Sans, sans-serif" font-size="17.4" fill="#111">Bacteroidales</text>
<rect x="203.2" y="2260.1" width="383.2" height="26" fill="#0000FF" stroke="#000" stroke-width="2.1"/>
<text x="596" y="2282.4" font-family="DejaVu Sans, Liberation Sans, sans-serif" font-size="17.4" fill="#111">Bacteroidia</text>
<rect x="203.2" y="2292.6" width="383.2" height="26" fill="#0000FF" stroke="#000" stroke-width="2.1"/>
<text x="596" y="2314.9" font-family="DejaVu Sans, Liberation Sans, sans-serif" font-size="17.4" fill="#111">Bacteroidetes</text>
<path d="M146.8,1475V2323.6" stroke="#111" stroke-width="1.5" stroke-dasharray="2.2 7.6" fill="none"/>
<path d="M146.8,1461v10.5M146.8,2326.1v11.5" stroke="#111" stroke-width="1.3" fill="none"/>
<text x="146.8" y="2371.5" text-anchor="middle" font-family="DejaVu Sans, Liberation Sans, sans-serif" font-size="29.8" fill="#111">−6.0</text>
<path d="M234.7,1475V2323.6" stroke="#111" stroke-width="1.5" stroke-dasharray="2.2 7.6" fill="none"/>
<path d="M234.7,1461v10.5M234.7,2326.1v11.5" stroke="#111" stroke-width="1.3" fill="none"/>
<text x="234.7" y="2371.5" text-anchor="middle" font-family="DejaVu Sans, Liberation Sans, sans-serif" font-size="29.8" fill="#111">−4.8</text>
<path d="M322.6,1475V2323.6" stroke="#111" stroke-width="1.5" stroke-dasharray="2.2 7.6" fill="none"/>
<path d="M322.6,1461v10.5M322.6,2326.1v11.5" stroke="#111" stroke-width="1.3" fill="none"/>
<text x="322.6" y="2371.5" text-anchor="middle" font-family="DejaVu Sans, Liberation Sans, sans-serif" font-size="29.8" fill="#111">−3.6</text>
<path d="M410.6,1475V2323.6" stroke="#111" stroke-width="1.5" stroke-dasharray="2.2 7.6" fill="none"/>
<path d="M410.6,1461v10.5M410.6,2326.1v11.5" stroke="#111" stroke-width="1.3" fill="none"/>
<text x="410.6" y="2371.5" text-anchor="middle" font-family="DejaVu Sans, Liberation Sans, sans-serif" font-size="29.8" fill="#111">−2.4</text>
<path d="M498.5,1475V2323.6" stroke="#111" stroke-width="1.5" stroke-dasharray="2.2 7.6" fill="none"/>
<path d="M498.5,1461v10.5M498.5,2326.1v11.5" stroke="#111" stroke-width="1.3" fill="none"/>
<text x="498.5" y="2371.5" text-anchor="middle" font-family="DejaVu Sans, Liberation Sans, sans-serif" font-size="29.8" fill="#111">−1.2</text>
<path d="M586.4,1475V2323.6" stroke="#111" stroke-width="1.5" stroke-dasharray="2.2 7.6" fill="none"/>
<path d="M586.4,1461v10.5M586.4,2326.1v11.5" stroke="#111" stroke-width="1.3" fill="none"/>
<text x="586.4" y="2371.5" text-anchor="middle" font-family="DejaVu Sans, Liberation Sans, sans-serif" font-size="29.8" fill="#111">0.0</text>
<path d="M674.3,1475V2323.6" stroke="#111" stroke-width="1.5" stroke-dasharray="2.2 7.6" fill="none"/>
<path d="M674.3,1461v10.5M674.3,2326.1v11.5" stroke="#111" stroke-width="1.3" fill="none"/>
<text x="674.3" y="2371.5" text-anchor="middle" font-family="DejaVu Sans, Liberation Sans, sans-serif" font-size="29.8" fill="#111">1.2</text>
<path d="M762.2,1475V2323.6" stroke="#111" stroke-width="1.5" stroke-dasharray="2.2 7.6" fill="none"/>
<path d="M762.2,1461v10.5M762.2,2326.1v11.5" stroke="#111" stroke-width="1.3" fill="none"/>
<text x="762.2" y="2371.5" text-anchor="middle" font-family="DejaVu Sans, Liberation Sans, sans-serif" font-size="29.8" fill="#111">2.4</text>
<path d="M850.2,1475V2323.6" stroke="#111" stroke-width="1.5" stroke-dasharray="2.2 7.6" fill="none"/>
<path d="M850.2,1461v10.5M850.2,2326.1v11.5" stroke="#111" stroke-width="1.3" fill="none"/>
<text x="850.2" y="2371.5" text-anchor="middle" font-family="DejaVu Sans, Liberation Sans, sans-serif" font-size="29.8" fill="#111">3.6</text>
<path d="M938.1,1475V2323.6" stroke="#111" stroke-width="1.5" stroke-dasharray="2.2 7.6" fill="none"/>
<path d="M938.1,1461v10.5M938.1,2326.1v11.5" stroke="#111" stroke-width="1.3" fill="none"/>
<text x="938.1" y="2371.5" text-anchor="middle" font-family="DejaVu Sans, Liberation Sans, sans-serif" font-size="29.8" fill="#111">4.8</text>
<path d="M1026.0,1475V2323.6" stroke="#111" stroke-width="1.5" stroke-dasharray="2.2 7.6" fill="none"/>
<path d="M1026.0,1461v10.5M1026.0,2326.1v11.5" stroke="#111" stroke-width="1.3" fill="none"/>
<text x="1026.0" y="2371.5" text-anchor="middle" font-family="DejaVu Sans, Liberation Sans, sans-serif" font-size="29.8" fill="#111">6.0</text>
<text x="586.4" y="2412" text-anchor="middle" font-family="DejaVu Sans, Liberation Sans, sans-serif" font-size="30" fill="#111">LDA SCORE (log 10)</text>
<rect x="156.6" y="1429.1" width="50" height="16.8" fill="#0000FF" stroke="#000" stroke-width="1.9"/>
<rect x="349.4" y="1429.1" width="50" height="16.8" fill="#008000" stroke="#000" stroke-width="1.9"/>
<text x="234" y="1446.8" font-family="Liberation Sans, Arial, sans-serif" font-size="29.3" fill="#111">Ctrl</text>
<text x="419.6" y="1446.2" font-family="Liberation Sans, Arial, sans-serif" font-size="25.8" fill="#111">AD</text>
<g opacity="0.2"><path d="M1362.9,1604.2A343.2,343.2 0 0 0 1282.3,2178.1L1461.3,1967.7A67,67 0 0 1 1477.0,1855.7Z" fill="#008000" stroke="#008000" stroke-width="2" stroke-linejoin="round"/></g>
<g opacity="0.2"><path d="M1206.3,1793.1A323,323 0 0 0 1243.4,2106.6L1423.8,1975.5A100,100 0 0 1 1412.3,1878.4Z" fill="#008000" stroke="#008000" stroke-width="2" stroke-linejoin="round"/></g>
<g opacity="0.2"><path d="M1223.4,1804.2A303,303 0 0 0 1247.7,2077.3L1391.9,1987.2A133,133 0 0 1 1381.2,1867.3Z" fill="#008000" stroke="#008000" stroke-width="2" stroke-linejoin="round"/></g>
<g opacity="0.2"><path d="M1226.4,1881.5A280.5,280.5 0 0 0 1228.5,1965.4L1343.2,1945.2A164,164 0 0 1 1342.0,1896.1Z" fill="#008000" stroke="#008000" stroke-width="2" stroke-linejoin="round"/></g>
<g opacity="0.12"><path d="M1234.9,1839.9A280.5,280.5 0 0 0 1228.5,1867.5L1343.2,1887.9A164,164 0 0 1 1347.0,1871.8Z" fill="#0000FF" stroke="#0000FF" stroke-width="2" stroke-linejoin="round"/></g>
<g opacity="0.12"><path d="M1255.2,1847.0A259,259 0 0 0 1252.6,1857.1L1313.0,1871.4A197,197 0 0 1 1315.0,1863.7Z" fill="#0000FF" stroke="#0000FF" stroke-width="2" stroke-linejoin="round"/></g>
<g opacity="0.2"><path d="M1247.8,1883.8A259,259 0 0 0 1246.5,1895.9L1308.3,1900.9A197,197 0 0 1 1309.3,1891.7Z" fill="#008000" stroke="#008000" stroke-width="2" stroke-linejoin="round"/></g>
<g opacity="0.12"><path d="M1245.9,1907.7A259,259 0 0 0 1245.7,1914.0L1307.7,1914.6A197,197 0 0 1 1307.8,1909.8Z" fill="#0000FF" stroke="#0000FF" stroke-width="2" stroke-linejoin="round"/></g>
<g opacity="0.2"><path d="M1245.7,1914.0A259,259 0 0 0 1245.7,1920.3L1307.7,1919.5A197,197 0 0 1 1307.7,1914.6Z" fill="#008000" stroke="#008000" stroke-width="2" stroke-linejoin="round"/></g>
<g opacity="0.12"><path d="M1252.0,1973.6A259,259 0 0 0 1254.9,1985.0L1314.7,1968.7A197,197 0 0 1 1312.5,1960.0Z" fill="#0000FF" stroke="#0000FF" stroke-width="2" stroke-linejoin="round"/></g>
<g opacity="0.2"><path d="M1280.2,2045.8A259,259 0 0 0 1285.5,2054.7L1338.0,2021.7A197,197 0 0 1 1333.9,2014.9Z" fill="#008000" stroke="#008000" stroke-width="2" stroke-linejoin="round"/></g>
<g opacity="0.2"><path d="M1393.0,1592.2A343.2,343.2 0 0 0 1363.5,1603.9L1477.1,1855.6A67,67 0 0 1 1482.9,1853.4Z" fill="#0000FF" stroke="#0000FF" stroke-width="2" stroke-linejoin="round"/></g>
<g opacity="0.2"><path d="M1399.5,1611.3A323,323 0 0 0 1371.8,1622.3L1463.5,1825.6A100,100 0 0 1 1472.1,1822.1Z" fill="#0000FF" stroke="#0000FF" stroke-width="2" stroke-linejoin="round"/></g>
<g opacity="0.2"><path d="M1406.1,1630.2A303,303 0 0 0 1380.0,1640.5L1450.0,1795.5A133,133 0 0 1 1461.4,1790.9Z" fill="#0000FF" stroke="#0000FF" stroke-width="2" stroke-linejoin="round"/></g>
<g opacity="0.2"><path d="M1413.4,1651.5A280.5,280.5 0 0 0 1389.3,1661.1L1437.2,1767.2A164,164 0 0 1 1451.3,1761.6Z" fill="#0000FF" stroke="#0000FF" stroke-width="2" stroke-linejoin="round"/></g>
<g opacity="0.2"><path d="M1420.4,1671.8A259,259 0 0 0 1398.1,1680.6L1423.6,1737.2A197,197 0 0 1 1440.6,1730.4Z" fill="#0000FF" stroke="#0000FF" stroke-width="2" stroke-linejoin="round"/></g>
<g opacity="0.2"><path d="M1669.0,1615.4A343.2,343.2 0 0 0 1422.3,1583.6L1488.6,1851.7A67,67 0 0 1 1536.8,1857.9Z" fill="#0000FF" stroke="#0000FF" stroke-width="2" stroke-linejoin="round"/></g>
<g opacity="0.2"><path d="M1659.3,1633.1A323,323 0 0 0 1532.9,1594.9L1513.4,1817.1A100,100 0 0 1 1552.6,1828.9Z" fill="#0000FF" stroke="#0000FF" stroke-width="2" stroke-linejoin="round"/></g>
<g opacity="0.2"><path d="M1649.7,1650.7A303,303 0 0 0 1531.1,1614.9L1516.3,1784.2A133,133 0 0 1 1568.4,1799.9Z" fill="#0000FF" stroke="#0000FF" stroke-width="2" stroke-linejoin="round"/></g>
<g opacity="0.2"><path d="M1552.0,1640.2A280.5,280.5 0 0 0 1529.1,1637.3L1519.0,1753.3A164,164 0 0 1 1532.3,1755.0Z" fill="#0000FF" stroke="#0000FF" stroke-width="2" stroke-linejoin="round"/></g>
<g opacity="0.2"><path d="M1580.1,1646.5A280.5,280.5 0 0 0 1552.9,1640.4L1532.9,1755.1A164,164 0 0 1 1548.8,1758.7Z" fill="#0000FF" stroke="#0000FF" stroke-width="2" stroke-linejoin="round"/></g>
<g opacity="0.2"><path d="M1545.7,1661.0A259,259 0 0 0 1537.6,1659.8L1529.7,1721.3A197,197 0 0 1 1535.9,1722.2Z" fill="#0000FF" stroke="#0000FF" stroke-width="2" stroke-linejoin="round"/></g>
<g opacity="0.2"><path d="M1565.2,1664.9A259,259 0 0 0 1557.2,1663.1L1544.6,1723.8A197,197 0 0 1 1550.7,1725.1Z" fill="#0000FF" stroke="#0000FF" stroke-width="2" stroke-linejoin="round"/></g>
<g opacity="0.2"><path d="M1573.9,1667.1A259,259 0 0 0 1565.2,1664.9L1550.7,1725.1A197,197 0 0 1 1557.3,1726.9Z" fill="#0000FF" stroke="#0000FF" stroke-width="2" stroke-linejoin="round"/></g>
<g opacity="0.2"><path d="M1319.4,2181.3A323,323 0 0 0 1566.3,2233.8L1523.8,2014.9A100,100 0 0 1 1447.3,1998.6Z" fill="#0000FF" stroke="#0000FF" stroke-width="2" stroke-linejoin="round"/></g>
<g opacity="0.2"><path d="M1557.7,2192.1A280.5,280.5 0 0 0 1579.2,2187.1L1548.3,2074.8A164,164 0 0 1 1535.7,2077.7Z" fill="#0000FF" stroke="#0000FF" stroke-width="2" stroke-linejoin="round"/></g>
<text transform="translate(1175.3,1869.8) rotate(-81.9)" text-anchor="middle" dy="3" font-family="DejaVu Sans, Liberation Sans, sans-serif" font-size="9" fill="#0A7A0A" stroke="#0A7A0A" stroke-width="0.35">x</text>
<text transform="translate(1194.5,1954.8) rotate(-97.0)" text-anchor="middle" dy="3" font-family="DejaVu Sans, Liberation Sans, sans-serif" font-size="9" fill="#0A7A0A" stroke="#0A7A0A" stroke-width="0.35">w</text>
<text transform="translate(1213.3,1941.7) rotate(-94.9)" text-anchor="middle" dy="3" font-family="DejaVu Sans, Liberation Sans, sans-serif" font-size="9" fill="#0A7A0A" stroke="#0A7A0A" stroke-width="0.35">v</text>
<text transform="translate(1234.8,1922.4) rotate(-91.2)" text-anchor="middle" dy="3" font-family="DejaVu Sans, Liberation Sans, sans-serif" font-size="9" fill="#0A7A0A" stroke="#0A7A0A" stroke-width="0.35">s</text>
<text transform="translate(1241.6,1856.0) rotate(-77.0)" text-anchor="middle" dy="3" font-family="DejaVu Sans, Liberation Sans, sans-serif" font-size="9" fill="#0000EE" stroke="#0000EE" stroke-width="0.35">o</text>
<text transform="translate(1264.1,1854.7) rotate(-75.6)" text-anchor="middle" dy="3" font-family="DejaVu Sans, Liberation Sans, sans-serif" font-size="9" fill="#0000EE" stroke="#0000EE" stroke-width="0.35">n</text>
<text transform="translate(1257.5,1890.9) rotate(-84.1)" text-anchor="middle" dy="3" font-family="DejaVu Sans, Liberation Sans, sans-serif" font-size="9" fill="#0A7A0A" stroke="#0A7A0A" stroke-width="0.35">p</text>
<text transform="translate(1256.3,1911.1) rotate(-88.7)" text-anchor="middle" dy="3" font-family="DejaVu Sans, Liberation Sans, sans-serif" font-size="9" fill="#0000EE" stroke="#0000EE" stroke-width="0.35">q</text>
<text transform="translate(1256.2,1917.1) rotate(-90.1)" text-anchor="middle" dy="3" font-family="DejaVu Sans, Liberation Sans, sans-serif" font-size="9" fill="#0A7A0A" stroke="#0A7A0A" stroke-width="0.35">r</text>
<text transform="translate(1263.6,1976.8) rotate(-104.0)" text-anchor="middle" dy="3" font-family="DejaVu Sans, Liberation Sans, sans-serif" font-size="9" fill="#0000EE" stroke="#0000EE" stroke-width="0.35">t</text>
<text transform="translate(1291.8,2044.9) rotate(-121.1)" text-anchor="middle" dy="3" font-family="DejaVu Sans, Liberation Sans, sans-serif" font-size="9" fill="#0A7A0A" stroke="#0A7A0A" stroke-width="0.35">u</text>
<text transform="translate(1382.0,1607.5) rotate(-21.7)" text-anchor="middle" dy="3" font-family="DejaVu Sans, Liberation Sans, sans-serif" font-size="9" fill="#0000EE" stroke="#0000EE" stroke-width="0.35">m</text>
<text transform="translate(1389.4,1626.2) rotate(-21.7)" text-anchor="middle" dy="3" font-family="DejaVu Sans, Liberation Sans, sans-serif" font-size="9" fill="#0000EE" stroke="#0000EE" stroke-width="0.35">l</text>
<text transform="translate(1396.8,1644.8) rotate(-21.7)" text-anchor="middle" dy="3" font-family="DejaVu Sans, Liberation Sans, sans-serif" font-size="9" fill="#0000EE" stroke="#0000EE" stroke-width="0.35">k</text>
<text transform="translate(1405.1,1665.7) rotate(-21.7)" text-anchor="middle" dy="3" font-family="DejaVu Sans, Liberation Sans, sans-serif" font-size="9" fill="#0000EE" stroke="#0000EE" stroke-width="0.35">j</text>
<text transform="translate(1413.0,1685.7) rotate(-21.7)" text-anchor="middle" dy="3" font-family="DejaVu Sans, Liberation Sans, sans-serif" font-size="9" fill="#0000EE" stroke="#0000EE" stroke-width="0.35">i</text>
<text transform="translate(1547.6,1586.8) rotate(7.4)" text-anchor="middle" dy="3" font-family="DejaVu Sans, Liberation Sans, sans-serif" font-size="9" fill="#0000EE" stroke="#0000EE" stroke-width="0.35">h</text>
<text transform="translate(1595.5,1617.7) rotate(16.9)" text-anchor="middle" dy="3" font-family="DejaVu Sans, Liberation Sans, sans-serif" font-size="9" fill="#0000EE" stroke="#0000EE" stroke-width="0.35">g</text>
<text transform="translate(1589.7,1636.8) rotate(16.9)" text-anchor="middle" dy="3" font-family="DejaVu Sans, Liberation Sans, sans-serif" font-size="9" fill="#0000EE" stroke="#0000EE" stroke-width="0.35">f</text>
<text transform="translate(1539.2,1648.9) rotate(7.3)" text-anchor="middle" dy="3" font-family="DejaVu Sans, Liberation Sans, sans-serif" font-size="9" fill="#0000EE" stroke="#0000EE" stroke-width="0.35">e</text>
<text transform="translate(1564.3,1653.4) rotate(12.8)" text-anchor="middle" dy="3" font-family="DejaVu Sans, Liberation Sans, sans-serif" font-size="9" fill="#0000EE" stroke="#0000EE" stroke-width="0.35">c</text>
<text transform="translate(1540.1,1670.7) rotate(8.2)" text-anchor="middle" dy="3" font-family="DejaVu Sans, Liberation Sans, sans-serif" font-size="9" fill="#0000EE" stroke="#0000EE" stroke-width="0.35">d</text>
<text transform="translate(1558.9,1674.2) rotate(12.6)" text-anchor="middle" dy="3" font-family="DejaVu Sans, Liberation Sans, sans-serif" font-size="9" fill="#0000EE" stroke="#0000EE" stroke-width="0.35">b</text>
<text transform="translate(1566.9,1676.1) rotate(14.5)" text-anchor="middle" dy="3" font-family="DejaVu Sans, Liberation Sans, sans-serif" font-size="9" fill="#0000EE" stroke="#0000EE" stroke-width="0.35">a</text>
<text transform="translate(1439.7,2222.4) rotate(-168.0)" text-anchor="middle" dy="3" font-family="DejaVu Sans, Liberation Sans, sans-serif" font-size="9" fill="#0000EE" stroke="#0000EE" stroke-width="0.35">y</text>
<text transform="translate(1566.1,2179.6) rotate(-193.1)" text-anchor="middle" dy="3" font-family="DejaVu Sans, Liberation Sans, sans-serif" font-size="9" fill="#0000EE" stroke="#0000EE" stroke-width="0.35">z</text>
<path d="M1472.4,1915.9L1440.5,1915.2M1559.4,1883.1L1587.3,1866.8M1587.3,1866.8L1615.5,1849.7M1622.3,1862.5L1652.3,1848.7M1667.2,1914.7L1700.0,1914.3M1666.9,1906.7L1699.6,1904.5M1666.2,1898.9L1698.8,1895.2M1665.1,1890.7L1697.5,1885.4M1663.6,1882.9L1695.7,1875.9M1660.0,1868.9L1692.8,1864.2M1660.0,1868.9L1691.4,1859.5M1660.0,1868.9L1689.8,1854.6M1655.3,1855.6L1686.5,1845.3M1655.3,1855.6L1684.7,1840.9M1650.2,1844.4L1680.7,1832.1M1650.2,1844.4L1678.3,1827.3M1646.4,1837.1L1674.9,1821.0M1642.4,1830.5L1670.1,1812.8M1637.8,1823.5L1664.8,1804.8M1629.3,1812.3L1657.5,1795.1M1629.3,1812.3L1654.5,1791.4M1629.3,1812.3L1650.9,1787.2M1622.4,1804.7L1646.1,1782.0M1616.7,1798.9L1639.2,1775.1M1587.5,1817.2L1608.5,1791.7M1608.5,1791.7L1629.5,1766.5M1574.5,1807.6L1593.3,1780.5M1593.3,1780.5L1604.7,1748.9M1593.3,1780.5L1608.9,1751.5M1593.3,1780.5L1613.3,1754.4M1593.3,1780.5L1617.5,1757.3M1511.0,1852.8L1514.2,1820.7M1487.9,1821.7L1482.9,1789.0M1482.9,1789.0L1477.3,1756.5M1472.3,1757.5L1465.9,1725.3M1482.6,1755.7L1473.0,1724.0M1482.6,1755.7L1478.0,1723.2M1482.6,1755.7L1483.2,1722.6M1502.7,1820.2L1502.2,1787.2M1502.2,1787.2L1501.0,1754.2M1501.0,1754.2L1500.6,1721.4M1510.5,1820.4L1512.0,1787.4M1512.0,1787.4L1514.2,1754.5M1514.2,1754.5L1515.7,1721.7M1540.5,1792.3L1549.7,1760.5M1526.5,1755.7L1526.7,1722.6M1540.7,1758.2L1542.3,1725.1M1560.4,1764.0L1562.3,1730.1M1560.4,1764.0L1567.1,1731.6M1560.4,1764.0L1571.5,1733.2M1560.4,1764.0L1576.3,1735.0M1560.4,1764.0L1580.9,1736.9M1577.4,1771.4L1591.9,1742.0M1486.9,1855.0L1477.3,1824.2M1477.3,1824.2L1468.1,1792.5M1468.1,1792.5L1458.5,1760.9M1458.5,1760.9L1449.4,1729.4M1440.9,1909.5L1408.8,1905.9M1434.1,1850.9L1409.9,1828.5M1424.3,1815.2L1403.8,1789.3M1428.4,1773.2L1415.2,1743.1M1428.4,1773.2L1410.9,1745.4M1414.2,1781.8L1402.3,1750.4M1414.2,1781.8L1398.1,1753.0M1414.2,1781.8L1393.9,1755.9M1414.2,1781.8L1390.0,1758.6M1401.0,1791.6L1382.4,1764.5M1401.0,1791.6L1378.4,1767.7M1395.2,1796.7L1373.1,1772.4M1389.2,1802.4L1366.1,1779.1M1383.6,1808.3L1359.4,1786.2M1393.0,1851.1L1364.6,1834.4M1374.3,1819.7L1349.4,1798.2M1374.3,1819.7L1346.6,1802.0M1367.6,1829.4L1341.2,1810.0M1367.6,1829.4L1338.5,1814.1M1367.6,1829.4L1334.7,1820.5M1357.5,1847.8L1329.2,1831.0M1357.5,1847.8L1326.8,1836.0M1409.2,1930.4L1376.5,1935.1M1375.9,1930.4L1343.1,1933.9M1352.7,1859.3L1322.0,1847.7M1350.0,1866.9L1318.8,1857.0M1346.3,1880.4L1314.2,1873.6M1346.3,1880.4L1313.2,1878.3M1344.3,1890.6L1311.9,1885.4M1342.2,1920.6L1309.8,1904.0M1342.2,1920.6L1309.5,1909.6M1342.2,1920.6L1309.7,1927.6M1342.2,1920.6L1310.1,1932.7M1342.2,1920.6L1310.6,1937.9M1342.2,1920.6L1311.1,1942.3M1342.2,1920.6L1311.8,1947.5M1345.3,1948.1L1313.1,1954.6M1354.7,1979.3L1315.8,1966.3M1354.7,1979.3L1316.9,1970.4M1354.7,1979.3L1318.7,1976.1M1354.7,1979.3L1320.3,1980.9M1354.7,1979.3L1321.9,1985.4M1354.7,1979.3L1323.5,1989.6M1354.7,1979.3L1325.4,1994.0M1354.7,1979.3L1327.7,1999.3M1354.7,1979.3L1329.9,2003.8M1354.7,1979.3L1331.8,2007.5M1354.7,1979.3L1334.1,2011.8M1354.7,1979.3L1336.9,2016.7M1397.2,1988.9L1369.8,2007.4M1369.8,2007.4L1342.5,2025.4M1433.1,1981.4L1407.9,2002.8M1407.9,2002.8L1382.2,2023.5M1382.2,2023.5L1352.9,2039.5M1382.2,2023.5L1356.1,2043.4M1382.2,2023.5L1359.5,2047.3M1382.2,2023.5L1363.0,2051.1M1439.1,1987.5L1416.4,2011.5M1416.4,2011.5L1394.0,2035.7M1394.0,2035.7L1371.8,2059.8M1465.4,1967.5L1445.6,1993.0M1445.6,1993.0L1425.2,2018.9M1425.2,2018.9L1404.8,2044.9M1404.8,2044.9L1384.9,2071.0M1529.6,1975.9L1542.1,2005.6M1486.5,2011.5L1480.3,2043.9M1438.1,2027.7L1420.1,2055.4M1420.1,2055.4L1400.9,2082.1M1420.1,2055.4L1405.1,2084.7M1468.0,2040.9L1458.6,2072.5M1429.6,2060.8L1414.1,2089.7M1440.4,2065.9L1425.2,2095.1M1440.4,2065.9L1429.9,2097.1M1447.8,2068.9L1436.4,2099.7M1459.6,2072.8L1448.3,2103.7M1459.6,2072.8L1452.7,2105.0M1467.6,2074.9L1459.8,2106.8M1475.3,2076.5L1469.4,2108.8M1483.3,2077.8L1479.1,2110.3M1496.2,2045.9L1494.0,2078.8M1494.0,2078.8L1491.6,2111.6M1510.5,2046.1L1511.9,2079.0M1504.7,2079.2L1504.7,2112.0M1512.7,2079.0L1514.2,2111.8M1523.7,2044.8L1527.3,2077.6M1527.3,2077.6L1529.3,2110.4M1527.3,2077.6L1534.5,2109.7M1536.6,2007.8L1547.6,2038.9M1543.0,2040.4L1552.8,2071.9M1543.7,2074.4L1549.1,2106.9M1543.7,2074.4L1554.0,2105.7M1551.7,2072.3L1560.8,2103.8M1559.4,2069.7L1570.3,2100.7M1555.8,2035.7L1569.4,2065.8M1569.4,2065.8L1582.2,2095.9M1557.4,1997.5L1575.5,2025.2M1565.2,2031.2L1580.7,2060.4M1580.7,2060.4L1595.9,2089.4M1572.7,2026.9L1590.0,2055.0M1590.0,2055.0L1607.0,2083.1M1566.9,1990.5L1588.1,2015.8M1579.8,2022.2L1598.9,2049.1M1598.9,2049.1L1617.9,2075.9M1587.7,2016.1L1608.9,2041.4M1608.9,2041.4L1630.1,2066.4M1589.2,1963.3L1618.1,1979.3M1629.9,1949.7L1661.5,1959.4M1661.5,1959.4L1693.8,1965.7M1661.5,1959.4L1692.5,1970.3M1626.3,1961.3L1657.0,1973.5M1657.0,1973.5L1688.5,1982.7M1657.0,1973.5L1686.8,1987.2M1621.2,1973.3L1650.8,1987.8M1651.2,1987.1L1680.8,2001.2M1647.5,1994.3L1676.4,2009.8M1614.6,1985.2L1642.0,2003.6M1642.0,2003.6L1671.1,2018.9M1642.0,2003.6L1668.4,2023.2M1605.9,1997.5L1631.1,2018.8M1631.1,2018.8L1661.0,2033.9M1631.1,2018.8L1657.9,2037.8M1631.1,2018.8L1655.0,2041.4M1631.1,2018.8L1651.7,2045.2M1595.2,2009.3L1618.2,2033.0M1618.2,2033.0L1641.2,2056.3M1567.9,1928.0L1599.7,1933.8M1599.7,1933.8L1632.2,1939.6M1632.2,1939.6L1664.7,1945.3M1664.7,1945.3L1696.9,1951.2M1568.6,1922.8L1600.8,1925.1M1600.8,1925.1L1633.7,1928.3M1633.7,1928.3L1666.6,1931.1M1666.6,1931.1L1699.2,1934.5" stroke="#000" stroke-width="1.5" fill="none"/>
<path d="M1559.4,1883.1A64.2,64.2 0 1 0 1568.6,1922.8" stroke="#000" stroke-width="4.0" fill="none" stroke-linecap="butt"/>
<path d="M1622.3,1862.5A129.5,129.5 0 0 0 1574.5,1807.6" stroke="#000" stroke-width="4.0" fill="none" stroke-linecap="butt"/>
<path d="M1667.2,1914.7A162.5,162.5 0 0 0 1616.7,1798.9" stroke="#000" stroke-width="3.6" fill="none" stroke-linecap="butt"/>
<path d="M1530.7,1823.8A96.5,96.5 0 0 0 1487.9,1821.7" stroke="#000" stroke-width="4.2" fill="none" stroke-linecap="butt"/>
<path d="M1482.6,1755.7A162.5,162.5 0 0 0 1472.3,1757.5" stroke="#000" stroke-width="3.6" fill="none" stroke-linecap="butt"/>
<path d="M1577.4,1771.4A162.5,162.5 0 0 0 1526.5,1755.7" stroke="#000" stroke-width="3.6" fill="none" stroke-linecap="butt"/>
<path d="M1434.1,1850.9A96.5,96.5 0 0 0 1439.1,1987.5" stroke="#000" stroke-width="4.2" fill="none" stroke-linecap="butt"/>
<path d="M1424.3,1815.2A129.5,129.5 0 0 0 1393.0,1851.1" stroke="#000" stroke-width="4.0" fill="none" stroke-linecap="butt"/>
<path d="M1428.4,1773.2A162.5,162.5 0 0 0 1383.6,1808.3" stroke="#000" stroke-width="3.6" fill="none" stroke-linecap="butt"/>
<path d="M1374.3,1819.7A162.5,162.5 0 0 0 1357.5,1847.8" stroke="#000" stroke-width="3.6" fill="none" stroke-linecap="butt"/>
<path d="M1375.9,1930.4A129.5,129.5 0 0 0 1397.2,1988.9" stroke="#000" stroke-width="4.0" fill="none" stroke-linecap="butt"/>
<path d="M1352.7,1859.3A162.5,162.5 0 0 0 1354.7,1979.3" stroke="#000" stroke-width="3.6" fill="none" stroke-linecap="butt"/>
<path d="M1486.5,2011.5A96.5,96.5 0 0 0 1589.2,1963.3" stroke="#000" stroke-width="4.2" fill="none" stroke-linecap="butt"/>
<path d="M1438.1,2027.7A129.5,129.5 0 0 0 1523.7,2044.8" stroke="#000" stroke-width="4.0" fill="none" stroke-linecap="butt"/>
<path d="M1429.6,2060.8A162.5,162.5 0 0 0 1483.3,2077.8" stroke="#000" stroke-width="3.6" fill="none" stroke-linecap="butt"/>
<path d="M1504.7,2079.2A162.5,162.5 0 0 0 1512.7,2079.0" stroke="#000" stroke-width="3.6" fill="none" stroke-linecap="butt"/>
<path d="M1543.0,2040.4A129.5,129.5 0 0 0 1555.8,2035.7" stroke="#000" stroke-width="4.0" fill="none" stroke-linecap="butt"/>
<path d="M1543.7,2074.4A162.5,162.5 0 0 0 1559.4,2069.7" stroke="#000" stroke-width="3.6" fill="none" stroke-linecap="butt"/>
<path d="M1565.2,2031.2A129.5,129.5 0 0 0 1575.5,2025.2" stroke="#000" stroke-width="4.0" fill="none" stroke-linecap="butt"/>
<path d="M1579.8,2022.2A129.5,129.5 0 0 0 1588.1,2015.8" stroke="#000" stroke-width="4.0" fill="none" stroke-linecap="butt"/>
<path d="M1595.2,2009.3A129.5,129.5 0 0 0 1629.9,1949.7" stroke="#000" stroke-width="4.0" fill="none" stroke-linecap="butt"/>
<path d="M1647.5,1994.3A162.5,162.5 0 0 0 1651.2,1987.1" stroke="#000" stroke-width="3.6" fill="none" stroke-linecap="butt"/>
<path d="M1530.7,1823.8L1540.5,1792.3" stroke="#000" stroke-width="6.6" fill="none"/>
<path d="M1530.7,1823.8L1540.5,1792.3" stroke="#0000FF" stroke-width="5" fill="none"/>
<path d="M1526.5,1755.7L1533.1,1723.5" stroke="#000" stroke-width="6.6" fill="none"/>
<path d="M1526.5,1755.7L1533.1,1723.5" stroke="#0000FF" stroke-width="5" fill="none"/>
<path d="M1540.7,1758.2L1547.9,1726.2" stroke="#000" stroke-width="6.6" fill="none"/>
<path d="M1540.7,1758.2L1547.9,1726.2" stroke="#0000FF" stroke-width="5" fill="none"/>
<path d="M1540.7,1758.2L1553.9,1727.7" stroke="#000" stroke-width="6.6" fill="none"/>
<path d="M1540.7,1758.2L1553.9,1727.7" stroke="#0000FF" stroke-width="5" fill="none"/>
<path d="M1481.3,1856.9L1469.4,1826.9" stroke="#000" stroke-width="6.300000000000001" fill="none"/>
<path d="M1481.3,1856.9L1469.4,1826.9" stroke="#0000FF" stroke-width="4.7" fill="none"/>
<path d="M1469.4,1826.9L1457.5,1796.1" stroke="#000" stroke-width="6.300000000000001" fill="none"/>
<path d="M1469.4,1826.9L1457.5,1796.1" stroke="#0000FF" stroke-width="4.7" fill="none"/>
<path d="M1457.5,1796.1L1445.5,1765.4" stroke="#000" stroke-width="6.300000000000001" fill="none"/>
<path d="M1457.5,1796.1L1445.5,1765.4" stroke="#0000FF" stroke-width="4.7" fill="none"/>
<path d="M1445.5,1765.4L1433.4,1734.9" stroke="#000" stroke-width="6.300000000000001" fill="none"/>
<path d="M1445.5,1765.4L1433.4,1734.9" stroke="#0000FF" stroke-width="4.7" fill="none"/>
<path d="M1346.3,1880.4L1315.5,1868.4" stroke="#000" stroke-width="5.6" fill="none"/>
<path d="M1346.3,1880.4L1315.5,1868.4" stroke="#0000FF" stroke-width="4" fill="none"/>
<path d="M1342.2,1920.6L1310.3,1897.7" stroke="#000" stroke-width="6.1" fill="none"/>
<path d="M1342.2,1920.6L1310.3,1897.7" stroke="#008000" stroke-width="4.5" fill="none"/>
<path d="M1342.2,1920.6L1309.4,1917.0" stroke="#000" stroke-width="6.1" fill="none"/>
<path d="M1342.2,1920.6L1309.4,1917.0" stroke="#008000" stroke-width="4.5" fill="none"/>
<g fill="#D0C81C" stroke="#3a3a00" stroke-width="0.6">
<circle cx="1472.4" cy="1915.9" r="6.21"/>
<circle cx="1559.4" cy="1883.1" r="3.60"/>
<circle cx="1587.3" cy="1866.8" r="3.87"/>
<circle cx="1622.3" cy="1862.5" r="2.97"/>
<circle cx="1667.2" cy="1914.7" r="1.80"/>
<circle cx="1700.0" cy="1914.3" r="2.25"/>
<circle cx="1666.9" cy="1906.7" r="1.80"/>
<circle cx="1699.6" cy="1904.5" r="2.25"/>
<circle cx="1666.2" cy="1898.9" r="1.80"/>
<circle cx="1698.8" cy="1895.2" r="2.25"/>
<circle cx="1665.1" cy="1890.7" r="2.70"/>
<circle cx="1697.5" cy="1885.4" r="3.15"/>
<circle cx="1663.6" cy="1882.9" r="1.80"/>
<circle cx="1695.7" cy="1875.9" r="2.25"/>
<circle cx="1660.0" cy="1868.9" r="1.80"/>
<circle cx="1692.8" cy="1864.2" r="2.07"/>
<circle cx="1691.4" cy="1859.5" r="2.07"/>
<circle cx="1689.8" cy="1854.6" r="2.07"/>
<circle cx="1655.3" cy="1855.6" r="1.80"/>
<circle cx="1686.5" cy="1845.3" r="2.25"/>
<circle cx="1684.7" cy="1840.9" r="2.25"/>
<circle cx="1650.2" cy="1844.4" r="1.80"/>
<circle cx="1680.7" cy="1832.1" r="2.25"/>
<circle cx="1678.3" cy="1827.3" r="2.25"/>
<circle cx="1646.4" cy="1837.1" r="1.80"/>
<circle cx="1674.9" cy="1821.0" r="2.25"/>
<circle cx="1642.4" cy="1830.5" r="1.80"/>
<circle cx="1670.1" cy="1812.8" r="2.25"/>
<circle cx="1637.8" cy="1823.5" r="1.80"/>
<circle cx="1664.8" cy="1804.8" r="2.25"/>
<circle cx="1629.3" cy="1812.3" r="1.80"/>
<circle cx="1657.5" cy="1795.1" r="2.07"/>
<circle cx="1654.5" cy="1791.4" r="2.07"/>
<circle cx="1650.9" cy="1787.2" r="2.07"/>
<circle cx="1622.4" cy="1804.7" r="1.80"/>
<circle cx="1646.1" cy="1782.0" r="2.25"/>
<circle cx="1616.7" cy="1798.9" r="1.80"/>
<circle cx="1639.2" cy="1775.1" r="2.25"/>
<circle cx="1587.5" cy="1817.2" r="2.70"/>
<circle cx="1608.5" cy="1791.7" r="2.70"/>
<circle cx="1629.5" cy="1766.5" r="2.70"/>
<circle cx="1574.5" cy="1807.6" r="4.05"/>
<circle cx="1593.3" cy="1780.5" r="3.60"/>
<circle cx="1604.7" cy="1748.9" r="3.15"/>
<circle cx="1608.9" cy="1751.5" r="3.15"/>
<circle cx="1613.3" cy="1754.4" r="1.80"/>
<circle cx="1617.5" cy="1757.3" r="1.80"/>
<circle cx="1487.9" cy="1821.7" r="3.15"/>
<circle cx="1482.9" cy="1789.0" r="2.97"/>
<circle cx="1472.3" cy="1757.5" r="1.80"/>
<circle cx="1465.9" cy="1725.3" r="1.80"/>
<circle cx="1482.6" cy="1755.7" r="2.97"/>
<circle cx="1473.0" cy="1724.0" r="1.80"/>
<circle cx="1478.0" cy="1723.2" r="1.80"/>
<circle cx="1483.2" cy="1722.6" r="3.15"/>
<circle cx="1502.7" cy="1820.2" r="1.80"/>
<circle cx="1502.2" cy="1787.2" r="1.80"/>
<circle cx="1501.0" cy="1754.2" r="1.80"/>
<circle cx="1500.6" cy="1721.4" r="1.98"/>
<circle cx="1510.5" cy="1820.4" r="1.80"/>
<circle cx="1512.0" cy="1787.4" r="1.80"/>
<circle cx="1514.2" cy="1754.5" r="1.80"/>
<circle cx="1515.7" cy="1721.7" r="1.98"/>
<circle cx="1526.7" cy="1722.6" r="4.50"/>
<circle cx="1542.3" cy="1725.1" r="4.50"/>
<circle cx="1560.4" cy="1764.0" r="5.40"/>
<circle cx="1562.3" cy="1730.1" r="4.95"/>
<circle cx="1567.1" cy="1731.6" r="4.95"/>
<circle cx="1571.5" cy="1733.2" r="2.25"/>
<circle cx="1576.3" cy="1735.0" r="2.70"/>
<circle cx="1580.9" cy="1736.9" r="5.40"/>
<circle cx="1577.4" cy="1771.4" r="5.85"/>
<circle cx="1591.9" cy="1742.0" r="5.85"/>
<circle cx="1486.9" cy="1855.0" r="1.35"/>
<circle cx="1477.3" cy="1824.2" r="1.35"/>
<circle cx="1468.1" cy="1792.5" r="1.35"/>
<circle cx="1458.5" cy="1760.9" r="1.35"/>
<circle cx="1449.4" cy="1729.4" r="1.98"/>
<circle cx="1434.1" cy="1850.9" r="5.85"/>
<circle cx="1424.3" cy="1815.2" r="2.97"/>
<circle cx="1428.4" cy="1773.2" r="2.70"/>
<circle cx="1415.2" cy="1743.1" r="2.25"/>
<circle cx="1410.9" cy="1745.4" r="1.80"/>
<circle cx="1414.2" cy="1781.8" r="1.80"/>
<circle cx="1402.3" cy="1750.4" r="1.80"/>
<circle cx="1398.1" cy="1753.0" r="1.80"/>
<circle cx="1393.9" cy="1755.9" r="1.80"/>
<circle cx="1390.0" cy="1758.6" r="1.80"/>
<circle cx="1401.0" cy="1791.6" r="1.80"/>
<circle cx="1382.4" cy="1764.5" r="1.80"/>
<circle cx="1378.4" cy="1767.7" r="1.80"/>
<circle cx="1395.2" cy="1796.7" r="2.25"/>
<circle cx="1373.1" cy="1772.4" r="2.70"/>
<circle cx="1389.2" cy="1802.4" r="2.25"/>
<circle cx="1366.1" cy="1779.1" r="2.70"/>
<circle cx="1383.6" cy="1808.3" r="1.80"/>
<circle cx="1359.4" cy="1786.2" r="1.98"/>
<circle cx="1393.0" cy="1851.1" r="5.85"/>
<circle cx="1374.3" cy="1819.7" r="2.70"/>
<circle cx="1349.4" cy="1798.2" r="2.97"/>
<circle cx="1346.6" cy="1802.0" r="1.80"/>
<circle cx="1367.6" cy="1829.4" r="5.40"/>
<circle cx="1341.2" cy="1810.0" r="5.85"/>
<circle cx="1338.5" cy="1814.1" r="1.80"/>
<circle cx="1334.7" cy="1820.5" r="1.80"/>
<circle cx="1363.2" cy="1836.9" r="1.80"/>
<circle cx="1357.5" cy="1847.8" r="3.60"/>
<circle cx="1329.2" cy="1831.0" r="1.98"/>
<circle cx="1326.8" cy="1836.0" r="4.05"/>
<circle cx="1352.7" cy="1859.3" r="2.70"/>
<circle cx="1322.0" cy="1847.7" r="2.70"/>
<circle cx="1350.0" cy="1866.9" r="1.80"/>
<circle cx="1318.8" cy="1857.0" r="1.80"/>
<circle cx="1314.2" cy="1873.6" r="1.80"/>
<circle cx="1313.2" cy="1878.3" r="1.80"/>
<circle cx="1344.3" cy="1890.6" r="4.95"/>
<circle cx="1311.9" cy="1885.4" r="4.95"/>
<circle cx="1309.8" cy="1904.0" r="2.70"/>
<circle cx="1309.7" cy="1927.6" r="3.60"/>
<circle cx="1310.1" cy="1932.7" r="4.50"/>
<circle cx="1310.6" cy="1937.9" r="2.25"/>
<circle cx="1311.1" cy="1942.3" r="4.05"/>
<circle cx="1311.8" cy="1947.5" r="4.05"/>
<circle cx="1345.3" cy="1948.1" r="1.80"/>
<circle cx="1313.1" cy="1954.6" r="1.80"/>
<circle cx="1354.7" cy="1979.3" r="5.85"/>
<circle cx="1316.9" cy="1970.4" r="2.34"/>
<circle cx="1318.7" cy="1976.1" r="3.42"/>
<circle cx="1320.3" cy="1980.9" r="4.32"/>
<circle cx="1321.9" cy="1985.4" r="2.34"/>
<circle cx="1323.5" cy="1989.6" r="4.05"/>
<circle cx="1325.4" cy="1994.0" r="3.78"/>
<circle cx="1327.7" cy="1999.3" r="3.78"/>
<circle cx="1329.9" cy="2003.8" r="3.06"/>
<circle cx="1331.8" cy="2007.5" r="4.32"/>
<circle cx="1334.1" cy="2011.8" r="3.06"/>
<circle cx="1397.2" cy="1988.9" r="2.25"/>
<circle cx="1369.8" cy="2007.4" r="2.25"/>
<circle cx="1342.5" cy="2025.4" r="2.25"/>
<circle cx="1433.1" cy="1981.4" r="4.05"/>
<circle cx="1407.9" cy="2002.8" r="4.05"/>
<circle cx="1382.2" cy="2023.5" r="4.05"/>
<circle cx="1352.9" cy="2039.5" r="2.70"/>
<circle cx="1356.1" cy="2043.4" r="3.15"/>
<circle cx="1359.5" cy="2047.3" r="2.70"/>
<circle cx="1363.0" cy="2051.1" r="2.25"/>
<circle cx="1439.1" cy="1987.5" r="2.70"/>
<circle cx="1416.4" cy="2011.5" r="2.70"/>
<circle cx="1394.0" cy="2035.7" r="2.70"/>
<circle cx="1371.8" cy="2059.8" r="3.15"/>
<circle cx="1465.4" cy="1967.5" r="2.25"/>
<circle cx="1445.6" cy="1993.0" r="2.25"/>
<circle cx="1425.2" cy="2018.9" r="2.25"/>
<circle cx="1404.8" cy="2044.9" r="2.25"/>
<circle cx="1384.9" cy="2071.0" r="2.25"/>
<circle cx="1529.6" cy="1975.9" r="5.85"/>
<circle cx="1438.1" cy="2027.7" r="2.25"/>
<circle cx="1420.1" cy="2055.4" r="2.25"/>
<circle cx="1400.9" cy="2082.1" r="2.25"/>
<circle cx="1405.1" cy="2084.7" r="2.25"/>
<circle cx="1468.0" cy="2040.9" r="3.15"/>
<circle cx="1429.6" cy="2060.8" r="2.25"/>
<circle cx="1414.1" cy="2089.7" r="2.25"/>
<circle cx="1440.4" cy="2065.9" r="3.15"/>
<circle cx="1425.2" cy="2095.1" r="2.25"/>
<circle cx="1429.9" cy="2097.1" r="3.15"/>
<circle cx="1447.8" cy="2068.9" r="2.25"/>
<circle cx="1436.4" cy="2099.7" r="2.25"/>
<circle cx="1459.6" cy="2072.8" r="3.15"/>
<circle cx="1448.3" cy="2103.7" r="3.15"/>
<circle cx="1452.7" cy="2105.0" r="2.25"/>
<circle cx="1467.6" cy="2074.9" r="2.25"/>
<circle cx="1459.8" cy="2106.8" r="2.25"/>
<circle cx="1475.3" cy="2076.5" r="2.25"/>
<circle cx="1469.4" cy="2108.8" r="2.25"/>
<circle cx="1483.3" cy="2077.8" r="2.25"/>
<circle cx="1479.1" cy="2110.3" r="2.25"/>
<circle cx="1496.2" cy="2045.9" r="2.25"/>
<circle cx="1494.0" cy="2078.8" r="2.25"/>
<circle cx="1491.6" cy="2111.6" r="2.25"/>
<circle cx="1510.5" cy="2046.1" r="3.60"/>
<circle cx="1504.7" cy="2079.2" r="1.98"/>
<circle cx="1504.7" cy="2112.0" r="2.25"/>
<circle cx="1512.7" cy="2079.0" r="3.60"/>
<circle cx="1514.2" cy="2111.8" r="4.05"/>
<circle cx="1523.7" cy="2044.8" r="2.97"/>
<circle cx="1527.3" cy="2077.6" r="3.15"/>
<circle cx="1529.3" cy="2110.4" r="3.15"/>
<circle cx="1534.5" cy="2109.7" r="2.25"/>
<circle cx="1536.6" cy="2007.8" r="4.05"/>
<circle cx="1543.0" cy="2040.4" r="4.05"/>
<circle cx="1549.1" cy="2106.9" r="2.97"/>
<circle cx="1554.0" cy="2105.7" r="2.97"/>
<circle cx="1551.7" cy="2072.3" r="2.25"/>
<circle cx="1560.8" cy="2103.8" r="2.70"/>
<circle cx="1559.4" cy="2069.7" r="4.05"/>
<circle cx="1570.3" cy="2100.7" r="4.50"/>
<circle cx="1555.8" cy="2035.7" r="2.25"/>
<circle cx="1569.4" cy="2065.8" r="2.70"/>
<circle cx="1582.2" cy="2095.9" r="2.70"/>
<circle cx="1557.4" cy="1997.5" r="5.85"/>
<circle cx="1565.2" cy="2031.2" r="2.25"/>
<circle cx="1580.7" cy="2060.4" r="2.25"/>
<circle cx="1595.9" cy="2089.4" r="2.25"/>
<circle cx="1572.7" cy="2026.9" r="5.85"/>
<circle cx="1590.0" cy="2055.0" r="5.85"/>
<circle cx="1607.0" cy="2083.1" r="6.30"/>
<circle cx="1566.9" cy="1990.5" r="6.30"/>
<circle cx="1579.8" cy="2022.2" r="2.97"/>
<circle cx="1598.9" cy="2049.1" r="2.97"/>
<circle cx="1617.9" cy="2075.9" r="2.97"/>
<circle cx="1587.7" cy="2016.1" r="6.30"/>
<circle cx="1608.9" cy="2041.4" r="6.30"/>
<circle cx="1630.1" cy="2066.4" r="6.75"/>
<circle cx="1589.2" cy="1963.3" r="4.05"/>
<circle cx="1629.9" cy="1949.7" r="3.15"/>
<circle cx="1661.5" cy="1959.4" r="3.15"/>
<circle cx="1693.8" cy="1965.7" r="2.25"/>
<circle cx="1692.5" cy="1970.3" r="3.15"/>
<circle cx="1626.3" cy="1961.3" r="1.98"/>
<circle cx="1657.0" cy="1973.5" r="2.25"/>
<circle cx="1688.5" cy="1982.7" r="2.25"/>
<circle cx="1686.8" cy="1987.2" r="2.25"/>
<circle cx="1621.2" cy="1973.3" r="2.52"/>
<circle cx="1651.2" cy="1987.1" r="2.25"/>
<circle cx="1680.8" cy="2001.2" r="2.25"/>
<circle cx="1647.5" cy="1994.3" r="2.70"/>
<circle cx="1676.4" cy="2009.8" r="2.70"/>
<circle cx="1614.6" cy="1985.2" r="2.25"/>
<circle cx="1642.0" cy="2003.6" r="1.98"/>
<circle cx="1671.1" cy="2018.9" r="2.25"/>
<circle cx="1668.4" cy="2023.2" r="2.25"/>
<circle cx="1605.9" cy="1997.5" r="4.32"/>
<circle cx="1631.1" cy="2018.8" r="4.32"/>
<circle cx="1661.0" cy="2033.9" r="2.25"/>
<circle cx="1657.9" cy="2037.8" r="3.60"/>
<circle cx="1655.0" cy="2041.4" r="3.60"/>
<circle cx="1651.7" cy="2045.2" r="4.05"/>
<circle cx="1595.2" cy="2009.3" r="2.25"/>
<circle cx="1618.2" cy="2033.0" r="2.25"/>
<circle cx="1641.2" cy="2056.3" r="2.25"/>
<circle cx="1567.9" cy="1928.0" r="4.50"/>
<circle cx="1599.7" cy="1933.8" r="4.95"/>
<circle cx="1632.2" cy="1939.6" r="4.95"/>
<circle cx="1664.7" cy="1945.3" r="4.95"/>
<circle cx="1696.9" cy="1951.2" r="5.40"/>
<circle cx="1568.6" cy="1922.8" r="4.05"/>
<circle cx="1600.8" cy="1925.1" r="4.05"/>
<circle cx="1633.7" cy="1928.3" r="4.05"/>
<circle cx="1666.6" cy="1931.1" r="4.05"/>
<circle cx="1699.2" cy="1934.5" r="4.32"/>
</g>
<g stroke="#000" stroke-width="0.9">
<circle cx="1511.0" cy="1852.8" r="6.35" fill="#0000FF"/>
<circle cx="1530.7" cy="1823.8" r="6.35" fill="#0000FF"/>
<circle cx="1540.5" cy="1792.3" r="6.44" fill="#0000FF"/>
<circle cx="1526.5" cy="1755.7" r="6.44" fill="#0000FF"/>
<circle cx="1533.1" cy="1723.5" r="6.90" fill="#0000FF"/>
<circle cx="1540.7" cy="1758.2" r="6.44" fill="#0000FF"/>
<circle cx="1547.9" cy="1726.2" r="5.52" fill="#0000FF"/>
<circle cx="1553.9" cy="1727.7" r="5.52" fill="#0000FF"/>
<circle cx="1481.3" cy="1856.9" r="4.14" fill="#0000FF"/>
<circle cx="1469.4" cy="1826.9" r="4.14" fill="#0000FF"/>
<circle cx="1457.5" cy="1796.1" r="4.14" fill="#0000FF"/>
<circle cx="1445.5" cy="1765.4" r="4.14" fill="#0000FF"/>
<circle cx="1433.4" cy="1734.9" r="4.60" fill="#0000FF"/>
<circle cx="1440.9" cy="1909.5" r="6.35" fill="#008000"/>
<circle cx="1409.2" cy="1930.4" r="6.26" fill="#008000"/>
<circle cx="1375.9" cy="1930.4" r="6.26" fill="#008000"/>
<circle cx="1346.3" cy="1880.4" r="3.68" fill="#0000FF"/>
<circle cx="1315.5" cy="1868.4" r="3.68" fill="#0000FF"/>
<circle cx="1342.2" cy="1920.6" r="6.26" fill="#008000"/>
<circle cx="1310.3" cy="1897.7" r="5.98" fill="#008000"/>
<circle cx="1309.5" cy="1909.6" r="2.76" fill="#0000FF"/>
<circle cx="1309.4" cy="1917.0" r="6.26" fill="#008000"/>
<circle cx="1315.8" cy="1966.3" r="3.68" fill="#0000FF"/>
<circle cx="1336.9" cy="2016.7" r="5.98" fill="#008000"/>
<circle cx="1486.5" cy="2011.5" r="3.68" fill="#0000FF"/>
<circle cx="1543.7" cy="2074.4" r="3.04" fill="#0000FF"/>
</g>
<circle cx="1504.7" cy="1916.7" r="0.9" fill="#b8b820"/>
<text x="1505" y="1524.5" text-anchor="middle" font-family="DejaVu Sans, Liberation Sans, sans-serif" font-size="35" fill="#111">Cladogram</text>
<rect x="1779.5" y="1606.9" width="30.6" height="10.4" fill="#0000FF" stroke="#000" stroke-width="3.4"/>
<text x="1822.2" y="1617.5" font-family="DejaVu Sans, Liberation Sans, sans-serif" font-size="15" fill="#111">a: Alloprevotella</text>
<rect x="1779.5" y="1628.9" width="30.6" height="10.4" fill="#0000FF" stroke="#000" stroke-width="3.4"/>
<text x="1822.2" y="1639.5" font-family="DejaVu Sans, Liberation Sans, sans-serif" font-size="15" fill="#111">b: Paraprevotella</text>
<rect x="1779.5" y="1651.0" width="30.6" height="10.4" fill="#0000FF" stroke="#000" stroke-width="3.4"/>
<text x="1822.2" y="1661.6" font-family="DejaVu Sans, Liberation Sans, sans-serif" font-size="15" fill="#111">c: Prevotellaceae</text>
<rect x="1779.5" y="1673.0" width="30.6" height="10.4" fill="#0000FF" stroke="#000" stroke-width="3.4"/>
<text x="1822.2" y="1683.6" font-family="DejaVu Sans, Liberation Sans, sans-serif" font-size="15" fill="#111">d: Alistipes</text>
<rect x="1779.5" y="1695.1" width="30.6" height="10.4" fill="#0000FF" stroke="#000" stroke-width="3.4"/>
<text x="1822.2" y="1705.7" font-family="DejaVu Sans, Liberation Sans, sans-serif" font-size="15" fill="#111">e: Rikenellaceae</text>
<rect x="1779.5" y="1717.1" width="30.6" height="10.4" fill="#0000FF" stroke="#000" stroke-width="3.4"/>
<text x="1822.2" y="1727.7" font-family="DejaVu Sans, Liberation Sans, sans-serif" font-size="15" fill="#111">f: Bacteroidales</text>
<rect x="1779.5" y="1739.1" width="30.6" height="10.4" fill="#0000FF" stroke="#000" stroke-width="3.4"/>
<text x="1822.2" y="1749.7" font-family="DejaVu Sans, Liberation Sans, sans-serif" font-size="15" fill="#111">g: Bacteroidia</text>
<rect x="1779.5" y="1761.2" width="30.6" height="10.4" fill="#0000FF" stroke="#000" stroke-width="3.4"/>
<text x="1822.2" y="1771.8" font-family="DejaVu Sans, Liberation Sans, sans-serif" font-size="15" fill="#111">h: Bacteroidetes</text>
<rect x="1779.5" y="1783.2" width="30.6" height="10.4" fill="#0000FF" stroke="#000" stroke-width="3.4"/>
<text x="1822.2" y="1793.8" font-family="DejaVu Sans, Liberation Sans, sans-serif" font-size="15" fill="#111">i: Mucispirillum</text>
<rect x="1779.5" y="1805.3" width="30.6" height="10.4" fill="#0000FF" stroke="#000" stroke-width="3.4"/>
<text x="1822.2" y="1815.9" font-family="DejaVu Sans, Liberation Sans, sans-serif" font-size="15" fill="#111">j: Deferribacteraceae</text>
<rect x="1779.5" y="1827.3" width="30.6" height="10.4" fill="#0000FF" stroke="#000" stroke-width="3.4"/>
<text x="1822.2" y="1837.9" font-family="DejaVu Sans, Liberation Sans, sans-serif" font-size="15" fill="#111">k: Deferribacterales</text>
<rect x="1779.5" y="1849.3" width="30.6" height="10.4" fill="#0000FF" stroke="#000" stroke-width="3.4"/>
<text x="1822.2" y="1859.9" font-family="DejaVu Sans, Liberation Sans, sans-serif" font-size="15" fill="#111">l: Deferribacteres</text>
<rect x="1779.5" y="1871.4" width="30.6" height="10.4" fill="#0000FF" stroke="#000" stroke-width="3.4"/>
<text x="1822.2" y="1882.0" font-family="DejaVu Sans, Liberation Sans, sans-serif" font-size="15" fill="#111">m: Deferribacteres</text>
<rect x="1779.5" y="1893.4" width="30.6" height="10.4" fill="#0000FF" stroke="#000" stroke-width="3.4"/>
<text x="1822.2" y="1904.0" font-family="DejaVu Sans, Liberation Sans, sans-serif" font-size="15" fill="#111">n: Anaerovorax</text>
<rect x="1779.5" y="1915.5" width="30.6" height="10.4" fill="#0000FF" stroke="#000" stroke-width="3.4"/>
<text x="1822.2" y="1926.1" font-family="DejaVu Sans, Liberation Sans, sans-serif" font-size="15" fill="#111">o: Clostridiales</text>
<rect x="1779.5" y="1937.5" width="30.6" height="10.4" fill="#008000" stroke="#000" stroke-width="3.4"/>
<text x="1822.2" y="1948.1" font-family="DejaVu Sans, Liberation Sans, sans-serif" font-size="15" fill="#111">p: Acetatifactor</text>
<rect x="1779.5" y="1959.5" width="30.6" height="10.4" fill="#0000FF" stroke="#000" stroke-width="3.4"/>
<text x="1822.2" y="1970.1" font-family="DejaVu Sans, Liberation Sans, sans-serif" font-size="15" fill="#111">q: Butyrivibrio</text>
<rect x="1779.5" y="1981.6" width="30.6" height="10.4" fill="#008000" stroke="#000" stroke-width="3.4"/>
<text x="1822.2" y="1992.2" font-family="DejaVu Sans, Liberation Sans, sans-serif" font-size="15" fill="#111">r: Clostridium_XIVa</text>
<rect x="1779.5" y="2003.6" width="30.6" height="10.4" fill="#008000" stroke="#000" stroke-width="3.4"/>
<text x="1822.2" y="2014.2" font-family="DejaVu Sans, Liberation Sans, sans-serif" font-size="15" fill="#111">s: Lachnospiraceae</text>
<rect x="1779.5" y="2025.7" width="30.6" height="10.4" fill="#0000FF" stroke="#000" stroke-width="3.4"/>
<text x="1822.2" y="2036.3" font-family="DejaVu Sans, Liberation Sans, sans-serif" font-size="15" fill="#111">t: Anaerotruncus</text>
<rect x="1779.5" y="2047.7" width="30.6" height="10.4" fill="#008000" stroke="#000" stroke-width="3.4"/>
<text x="1822.2" y="2058.3" font-family="DejaVu Sans, Liberation Sans, sans-serif" font-size="15" fill="#111">u: Sporobacter</text>
<rect x="1779.5" y="2069.7" width="30.6" height="10.4" fill="#008000" stroke="#000" stroke-width="3.4"/>
<text x="1822.2" y="2080.3" font-family="DejaVu Sans, Liberation Sans, sans-serif" font-size="15" fill="#111">v: Clostridiales</text>
<rect x="1779.5" y="2091.8" width="30.6" height="10.4" fill="#008000" stroke="#000" stroke-width="3.4"/>
<text x="1822.2" y="2102.4" font-family="DejaVu Sans, Liberation Sans, sans-serif" font-size="15" fill="#111">w: Clostridia</text>
<rect x="1779.5" y="2113.8" width="30.6" height="10.4" fill="#008000" stroke="#000" stroke-width="3.4"/>
<text x="1822.2" y="2124.4" font-family="DejaVu Sans, Liberation Sans, sans-serif" font-size="15" fill="#111">x: Firmicutes</text>
<rect x="1779.5" y="2135.9" width="30.6" height="10.4" fill="#0000FF" stroke="#000" stroke-width="3.4"/>
<text x="1822.2" y="2146.5" font-family="DejaVu Sans, Liberation Sans, sans-serif" font-size="15" fill="#111">y: Alphaproteobacteria</text>
<rect x="1779.5" y="2157.9" width="30.6" height="10.4" fill="#0000FF" stroke="#000" stroke-width="3.4"/>
<text x="1822.2" y="2168.5" font-family="DejaVu Sans, Liberation Sans, sans-serif" font-size="15" fill="#111">z: Comamonadaceae</text>
</svg></body></html>
